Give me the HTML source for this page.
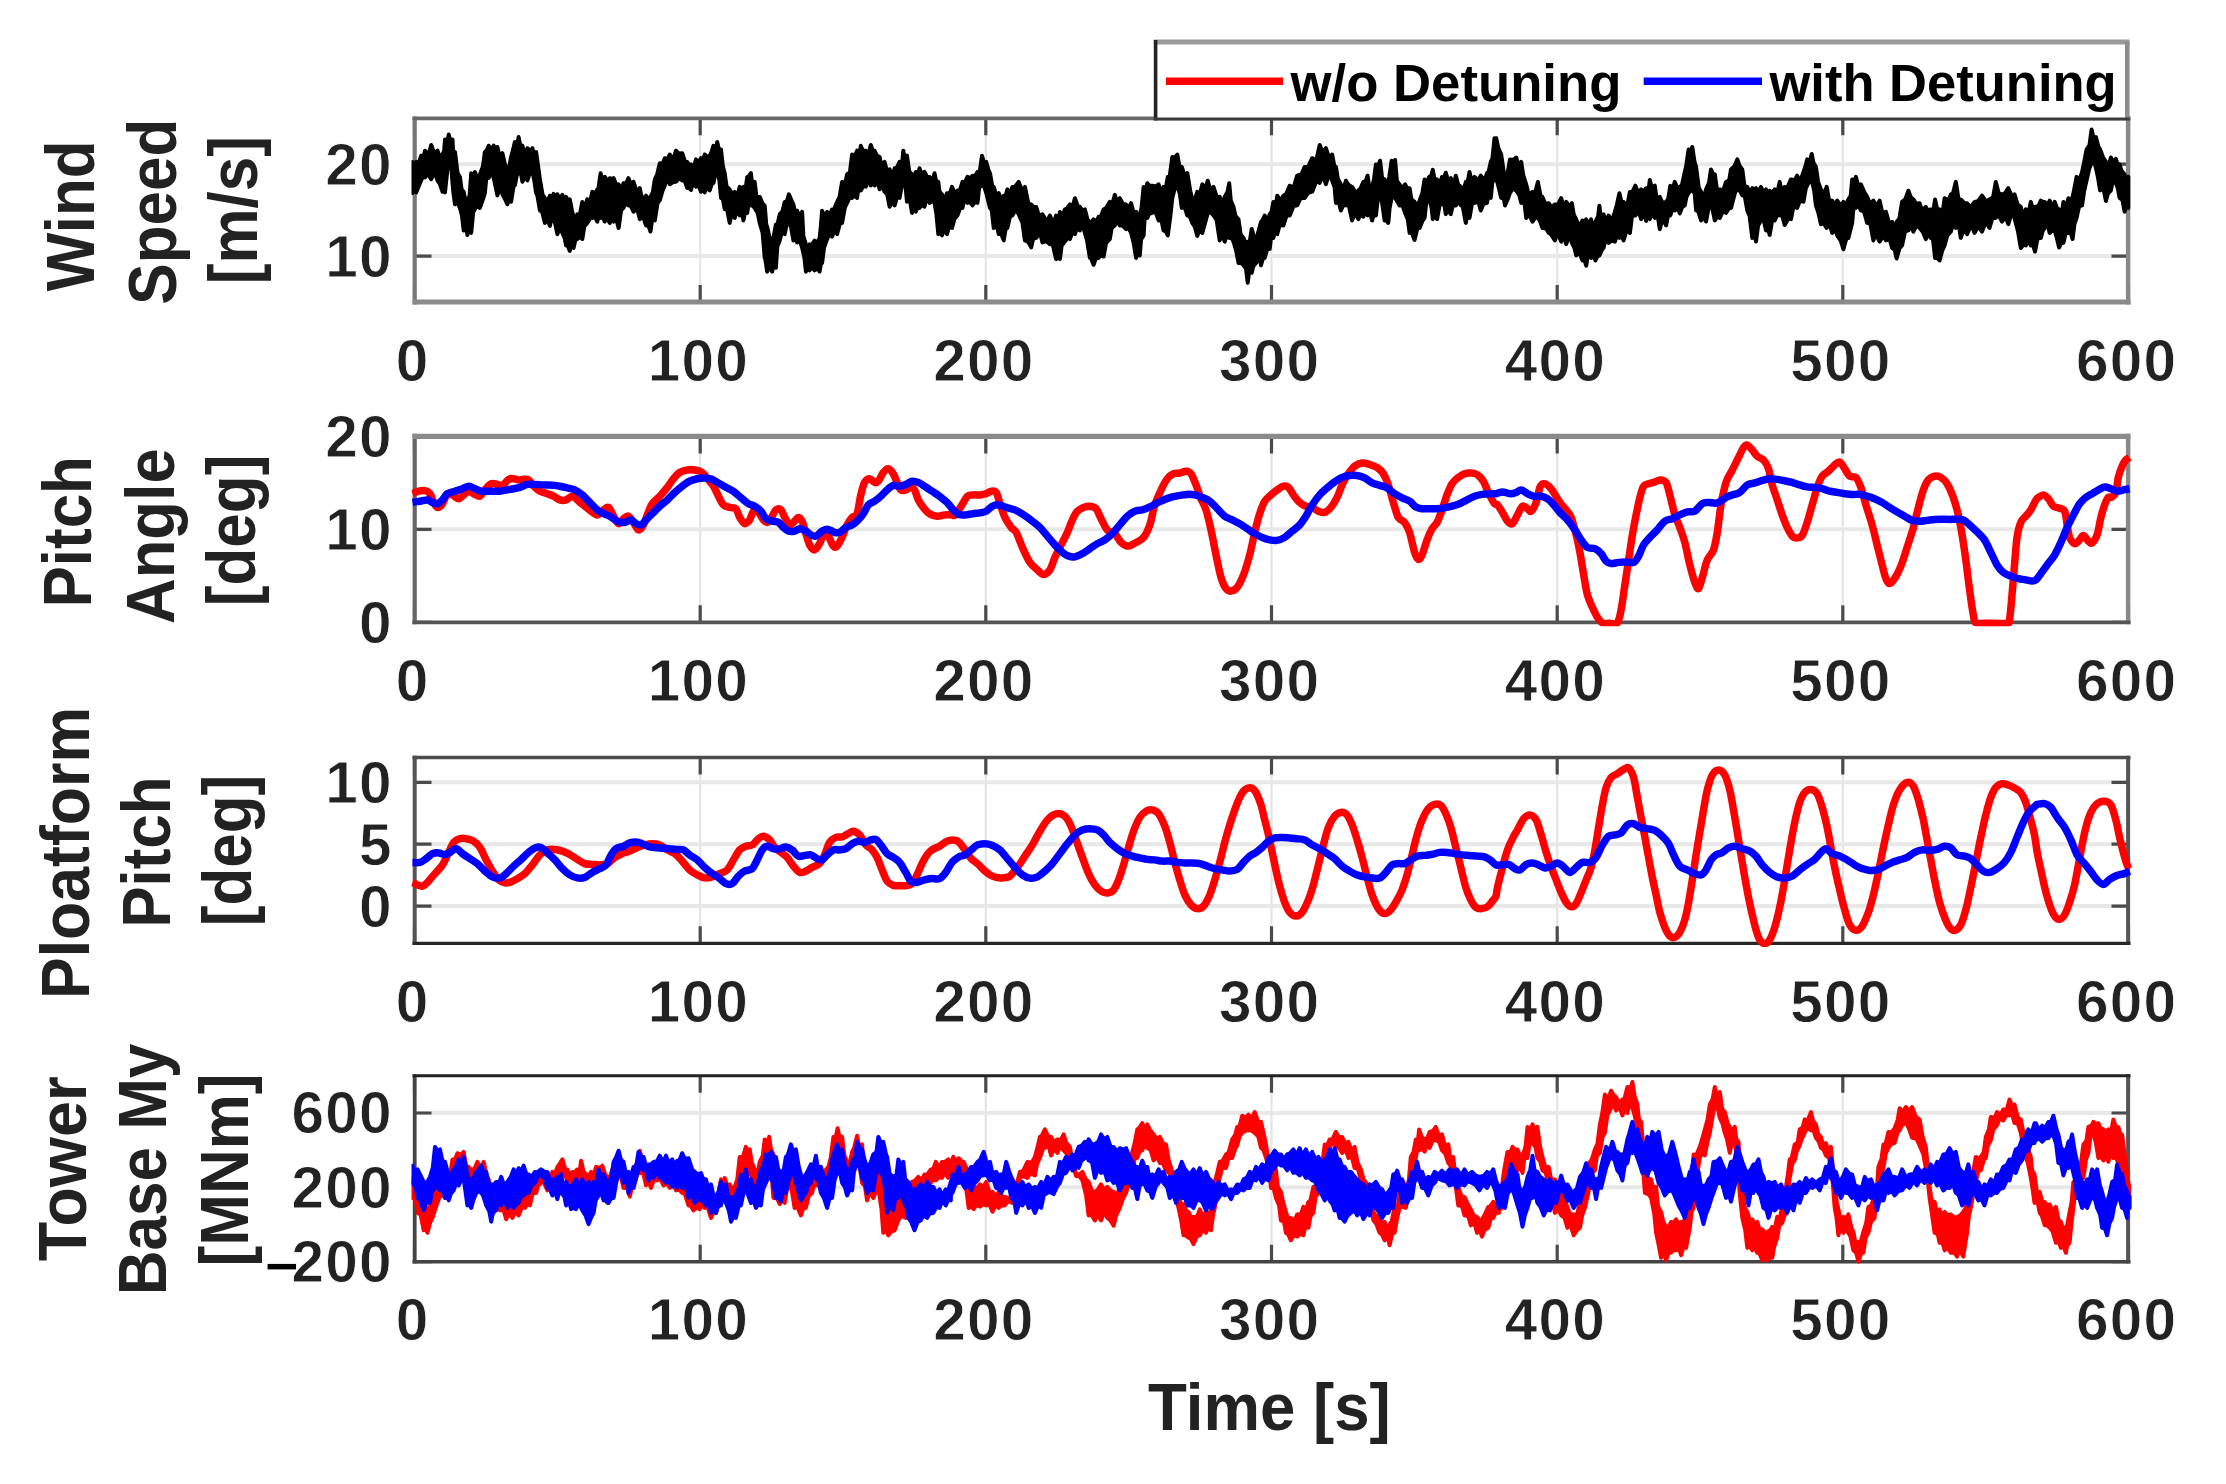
<!DOCTYPE html>
<html lang="en"><head><meta charset="utf-8"><title>Detuning comparison</title>
<style>html,body{margin:0;padding:0;background:#fff}body{width:2226px;height:1484px;overflow:hidden}svg{display:block;filter:blur(0.7px)}</style></head>
<body>
<svg width="2226" height="1484" viewBox="0 0 2226 1484">
<rect width="2226" height="1484" fill="#fff"/>
<defs>
<clipPath id="c0"><rect x="411.5" y="117.3" width="1720" height="188.7"/></clipPath>
<clipPath id="c1"><rect x="411.5" y="435.4" width="1720" height="190.9"/></clipPath>
<clipPath id="c2"><rect x="411.5" y="756.5" width="1720" height="190.8"/></clipPath>
<clipPath id="c3"><rect x="411.5" y="1074.8" width="1720" height="190.9"/></clipPath>
</defs>
<path d="M700.2 118.3V302M985.8 118.3V302M1271.5 118.3V302M1557.2 118.3V302M1842.8 118.3V302" stroke="#e4e4e4" stroke-width="2.2" fill="none"/>
<path d="M414.5 256.1H2128.5M414.5 164.2H2128.5" stroke="#e8e8e8" stroke-width="4" fill="none"/>
<path d="M700.2 436.4V622.3M985.8 436.4V622.3M1271.5 436.4V622.3M1557.2 436.4V622.3M1842.8 436.4V622.3" stroke="#e4e4e4" stroke-width="2.2" fill="none"/>
<path d="M414.5 529.3H2128.5" stroke="#e8e8e8" stroke-width="4" fill="none"/>
<path d="M700.2 757.5V943.3M985.8 757.5V943.3M1271.5 757.5V943.3M1557.2 757.5V943.3M1842.8 757.5V943.3" stroke="#e4e4e4" stroke-width="2.2" fill="none"/>
<path d="M414.5 906.1H2128.5M414.5 844.2H2128.5M414.5 782.3H2128.5" stroke="#e8e8e8" stroke-width="4" fill="none"/>
<path d="M700.2 1075.8V1261.7M985.8 1075.8V1261.7M1271.5 1075.8V1261.7M1557.2 1075.8V1261.7M1842.8 1075.8V1261.7" stroke="#e4e4e4" stroke-width="2.2" fill="none"/>
<path d="M414.5 1187.3H2128.5M414.5 1113H2128.5" stroke="#e8e8e8" stroke-width="4" fill="none"/>
<path d="M414.5 118.3v17M414.5 302v-17M700.2 118.3v17M700.2 302v-17M985.8 118.3v17M985.8 302v-17M1271.5 118.3v17M1271.5 302v-17M1557.2 118.3v17M1557.2 302v-17M1842.8 118.3v17M1842.8 302v-17M2128.5 118.3v17M2128.5 302v-17M414.5 256.1h17M2128.5 256.1h-17M414.5 164.2h17M2128.5 164.2h-17" stroke="#4a4a4a" stroke-width="3.2" fill="none"/>
<path d="M414.7 116.4V304.4" stroke="#777" stroke-width="4.2" fill="none"/>
<path d="M2128.1 116.4V304.4" stroke="#888" stroke-width="4.4" fill="none"/>
<path d="M412.5 118.3H2130.5" stroke="#686868" stroke-width="3.8" fill="none"/>
<path d="M412.5 302H2130.5" stroke="#8a8a8a" stroke-width="4.8" fill="none"/>
<path d="M414.5 436.4v17M414.5 622.3v-17M700.2 436.4v17M700.2 622.3v-17M985.8 436.4v17M985.8 622.3v-17M1271.5 436.4v17M1271.5 622.3v-17M1557.2 436.4v17M1557.2 622.3v-17M1842.8 436.4v17M1842.8 622.3v-17M2128.5 436.4v17M2128.5 622.3v-17M414.5 622.3h17M2128.5 622.3h-17M414.5 529.3h17M2128.5 529.3h-17M414.5 436.4h17M2128.5 436.4h-17" stroke="#4a4a4a" stroke-width="3.2" fill="none"/>
<path d="M414.7 433.8V624.2" stroke="#666" stroke-width="4.2" fill="none"/>
<path d="M2128.1 433.8V624.2" stroke="#888" stroke-width="4.4" fill="none"/>
<path d="M412.5 436.4H2130.5" stroke="#8a8a8a" stroke-width="5.2" fill="none"/>
<path d="M412.5 622.3H2130.5" stroke="#555" stroke-width="3.8" fill="none"/>
<path d="M414.5 757.5v17M414.5 943.3v-17M700.2 757.5v17M700.2 943.3v-17M985.8 757.5v17M985.8 943.3v-17M1271.5 757.5v17M1271.5 943.3v-17M1557.2 757.5v17M1557.2 943.3v-17M1842.8 757.5v17M1842.8 943.3v-17M2128.5 757.5v17M2128.5 943.3v-17M414.5 906.1h17M2128.5 906.1h-17M414.5 844.2h17M2128.5 844.2h-17M414.5 782.3h17M2128.5 782.3h-17" stroke="#4a4a4a" stroke-width="3.2" fill="none"/>
<path d="M414.7 755.8V944.9" stroke="#555" stroke-width="4.0" fill="none"/>
<path d="M2128.1 755.8V944.9" stroke="#555" stroke-width="4.0" fill="none"/>
<path d="M412.5 757.5H2130.5" stroke="#4c4c4c" stroke-width="3.4" fill="none"/>
<path d="M412.5 943.3H2130.5" stroke="#282828" stroke-width="3.2" fill="none"/>
<path d="M414.5 1075.8v17M414.5 1261.7v-17M700.2 1075.8v17M700.2 1261.7v-17M985.8 1075.8v17M985.8 1261.7v-17M1271.5 1075.8v17M1271.5 1261.7v-17M1557.2 1075.8v17M1557.2 1261.7v-17M1842.8 1075.8v17M1842.8 1261.7v-17M2128.5 1075.8v17M2128.5 1261.7v-17M414.5 1261.7h17M2128.5 1261.7h-17M414.5 1187.3h17M2128.5 1187.3h-17M414.5 1113h17M2128.5 1113h-17" stroke="#4a4a4a" stroke-width="3.2" fill="none"/>
<path d="M414.7 1074.3V1263.5" stroke="#444" stroke-width="3.8" fill="none"/>
<path d="M2128.1 1074.3V1263.5" stroke="#555" stroke-width="4.0" fill="none"/>
<path d="M412.5 1075.8H2130.5" stroke="#222" stroke-width="3.0" fill="none"/>
<path d="M412.5 1261.7H2130.5" stroke="#444" stroke-width="3.6" fill="none"/>
<g clip-path="url(#c0)"><path d="M412.5 161.9L414.2 164.8L416.2 161.9L418.1 164.8L421.2 155.7L423.8 156.3L425 150.7L428.3 155.5L431.2 145L434.4 153.9L437.5 150.7L440.3 159L442.5 154.5L444.2 150.4L445 139.5L447.1 143.7L448.7 134.5L450.5 141.1L452.5 139.5L453.2 153.7L455 152L457.6 173.2L459.9 176.9L461.6 189.5L463.7 191.9L465.8 202.6L467.4 201.9L469.6 195.4L471.2 173.2L473.6 180.4L474.9 171.9L477.9 179.9L479.9 174.4L482.9 166.5L484.9 152L486.7 150.5L488.7 145.7L491.7 149.1L493.7 145.7L495.8 152.3L497.4 147L499.9 158.1L502.4 153.2L505 164.8L507.4 169.4L509.4 165.8L511.1 157L512.8 150.8L514.9 142L516.7 147.6L518.6 137L520.6 147.5L522.4 145.7L524.8 155.5L527.4 148.2L530.6 151.1L532.4 148.2L534.1 155.5L536.1 152L538.2 166.9L539.9 179.4L542.6 194.8L544.9 198.2L546.7 203.6L549.9 195.7L551.4 201.2L553.6 193.9L555.3 199.9L557.4 194.4L559.6 198.6L562.4 194.9L564.3 203.1L566.1 196.9L568.4 201.6L569.8 199.4L572 210.7L573.6 216.9L575.9 219.2L577.3 214.4L579.6 216L582.3 201.9L584.4 208.7L587.3 199.4L590.3 200.9L592.3 191.9L595.3 193.1L597.3 189.4L598.4 188.8L600.6 173.2L602.5 182.4L604.8 176.9L607.9 181.9L609.8 178.2L612.2 179.2L613.6 178.2L616.7 185.8L618.6 184.4L621.3 190.8L623.5 183.2L625.7 184L628.5 178.2L631.5 185.8L633.5 181.9L637.3 193.3L639.8 188.2L642.2 200.1L646 195.7L648.5 198.7L650.5 196.9L652.8 192.5L654.8 179.4L657.2 174.3L659.8 163.2L662.3 164.5L664.8 158.2L667.8 158.7L669.8 154.5L673.1 160.2L676 150.7L678.8 153.4L682.2 153.2L685.1 162L687.2 161.9L688.6 164.6L691 164.4L692.9 170.7L696 159.4L698.3 162.4L701 158.2L702.4 162L704.7 154.5L707.5 157.1L709.7 155.7L711.4 152.3L713.5 145.7L715.8 151.1L717.2 142L719.1 150.2L721 149.5L722.8 165.7L724.7 173.2L726.6 186.6L729.7 189.4L732.8 195.1L734.7 191.9L736.9 197.6L739.7 186.9L741.8 188.9L743.4 186.9L745.6 189.3L747.2 176.9L748.4 176.9L750.9 173.2L752.2 184.8L754.7 181.9L756.5 197.5L759.7 196.9L762.4 203.3L764.7 205.7L766.3 224.9L767.2 226.9L770 239.6L772.2 238.1L773.4 238.3L775.9 224.4L777.4 224.9L779.7 214.4L782.5 211.2L784.7 201.9L786.6 202.1L788.9 194.4L791.8 201.1L793.4 204.4L795.5 214.5L797.1 210.7L799.6 217.7L802.1 211.9L803.4 236.3L805.9 244.4L807.7 252.7L809.6 244.4L811.7 245L814.6 240.6L817.4 242.9L819.6 238.1L820.7 227.8L822.1 210.7L824.2 217L827.1 211.9L829.2 215.5L832.1 209.4L834.1 209.2L837.1 201.9L839.6 196.8L842.1 181.9L844.6 185.8L847.1 174.4L849.9 172.3L852.1 154.5L854.2 157.3L857.1 150.7L859.5 154.6L860.8 145.7L862.9 150.7L865.8 150.7L868 155.7L870.8 145L873 151.3L874.6 150.7L876.8 155.6L879.6 157L881.4 165.1L884.6 161.9L886.7 170.2L889.6 169.4L892.1 177.5L894.6 168.2L896.5 168.3L899.6 161.9L902 164.6L903.3 150.7L904.9 160.4L907 155.7L909.2 171.3L912 174.4L914 181.9L915.8 171.9L918 175L919.5 168.2L922.2 175.6L924.5 171.9L927.2 176.9L929.5 176.9L931.8 183.5L934.5 173.2L936.6 183.3L938.3 181.9L939.5 191.7L942 194.4L944.8 200.8L947 193.2L950 193.2L952 186.9L955.1 193.8L957.5 190.7L960 190L962.5 181.9L964.4 183.3L967.5 176.9L970.4 178.1L972.5 175.7L974.9 176.3L977.5 171.9L979.8 171.3L982 155.7L984.1 163L986.2 161.9L988.5 170.2L990 173.2L992.5 187.5L993.7 186.9L996.4 195.5L998.7 193.2L1001.7 200.9L1003.7 195.7L1004.9 198.4L1007.4 189.4L1010 194.5L1012.4 186.9L1014.9 187L1018.7 181.9L1021.9 190.6L1024.9 186.9L1028.5 203.8L1031.2 204.4L1033.3 207.1L1036.2 206.9L1039 216L1042.4 214.4L1046.7 221.6L1049.9 215.6L1053.4 224.1L1056.1 215.6L1058.5 221.2L1059.9 211.9L1061.8 217.7L1064.9 209.4L1066.9 208.5L1069.9 204.4L1072.3 207.9L1074.9 198.2L1077.7 206L1079.9 206.9L1082.7 210.6L1084.9 209.4L1087.5 219.6L1089.9 221.9L1092.1 221.7L1093.6 219.4L1095.7 222.8L1098.6 216.9L1100.4 217.4L1103.6 209.4L1106.1 208L1109.8 201.9L1112.6 203L1114.8 194.9L1116.7 200.8L1119.8 198.2L1122.9 204L1126.1 204.4L1128.1 209.8L1131.1 203.2L1134 214.4L1136.1 211.9L1137.6 221.6L1139.8 214.4L1141.5 208.2L1143.6 186.9L1145.6 191.5L1147.3 183.2L1149.3 185.7L1152.3 185.7L1156 186.5L1158.6 184.4L1161.5 194.5L1163.5 186.9L1165.4 190.4L1167.8 176.9L1169.8 175.5L1172.3 157L1174.6 157.6L1177.3 154.5L1179.9 169.1L1181.8 166.9L1185.1 177.7L1187.3 173.2L1190.2 190.6L1192.3 199.4L1195.1 198.8L1197.3 191.9L1199.7 194.9L1202.3 184.4L1205 189.2L1207.8 180.7L1210.3 190.2L1213.5 186.9L1217.1 198.1L1219.7 196.9L1222 205.1L1224.7 196.9L1227.6 191.6L1229.2 183.2L1230.8 200.6L1233.5 206.9L1235.5 216.1L1238.5 219.4L1240.6 234.4L1243.5 238.1L1245.5 242.8L1247.7 241.9L1249.8 241.2L1251.7 228.9L1254.3 237.8L1256 241.9L1258 233.1L1261 221.9L1262.4 220.5L1264.7 215.6L1267.6 220.9L1269.7 214.4L1271.5 211.9L1273.4 201.9L1275.8 206.5L1277.2 195.7L1280.6 201L1283.4 195.7L1286 194.4L1289.7 185.7L1293.6 187.6L1297.2 175.7L1301.6 174L1304.7 166.9L1308 167L1312.2 158.2L1316.4 160L1319.7 145L1322.8 152.5L1325.9 148.2L1329.7 159.9L1332.1 154.5L1334.7 167.9L1335.9 166.9L1337.9 179L1340.9 184.4L1343.4 189.3L1345.9 180.7L1348.7 185.1L1352.1 186.9L1355.6 192.6L1358.4 190.7L1360.7 188.1L1363.4 181.9L1365.8 181L1367.6 175.7L1369.7 190.1L1372.1 186.9L1374 179.2L1375.9 164.4L1377.7 166.4L1380.1 160.7L1382.1 178.2L1384.6 179.4L1386 188.1L1388.3 181.9L1389.3 176.6L1391.6 160.7L1394 167.5L1395.1 159.9L1396.9 181L1399.6 184.4L1401.7 188.9L1405.1 184.4L1407 188L1409.6 188.2L1411.4 199.4L1414.6 201.9L1417.6 207.3L1419.6 200.7L1422.4 193L1424.6 179.4L1426.9 183.3L1429.1 176.9L1431.1 175.8L1432.8 169.9L1435.2 182.9L1437.1 179.4L1439.4 185.7L1442 176.9L1444.2 177.2L1445.8 172.7L1448.1 180.8L1450.8 178.2L1453.9 184.4L1455.8 175.7L1458.2 184.8L1460.8 186.9L1463.4 192L1465.8 181.9L1467.6 182.5L1469.5 171.9L1471.5 181.1L1474.5 176.9L1478.2 180.3L1480.8 175.7L1484.5 180.6L1487 173.2L1488.6 171.6L1490.8 161.9L1492.4 158.7L1494.5 138.2L1495 141.5L1496.2 138.2L1498.3 148L1501.2 154.5L1503.6 170.9L1505 176.9L1507.2 175.7L1510 159.4L1513.1 160L1516.2 157.5L1518.3 165.1L1521.2 161.9L1523.3 175.3L1526.2 184.4L1528.8 194.6L1532.5 191.9L1534.8 194L1537.9 181.9L1540.8 197.4L1542.4 196.9L1545.4 204.1L1548.7 203.2L1551.3 207L1554.9 204.4L1557.5 205.1L1561.2 198.2L1564.3 208.6L1566.2 201.9L1569 206.4L1571.9 203.2L1573.8 214.8L1576.2 219.4L1579.2 227.3L1582.4 220.6L1584.7 224.6L1586.2 219.4L1589.1 225.1L1591.1 219.4L1592.8 229.4L1595.4 221.9L1598.1 216.4L1599.4 205.7L1600.8 218L1603.6 214.4L1606.4 222.4L1608.6 215.6L1611.8 220.9L1614.9 211.9L1616.9 204.7L1619.4 193.2L1621.3 201.5L1623.6 201.9L1627.2 205.8L1629.9 191.9L1632.3 192.1L1635.4 185.7L1638 192.6L1641.1 189.4L1643.5 192.1L1646.1 188.2L1648.7 189.3L1649.8 179.9L1651.7 187.3L1654.8 185.7L1656.7 199.1L1659.8 196.9L1662.8 203.5L1666.1 201.9L1668.1 199.2L1670.3 185.7L1672.3 190.5L1674.8 181.9L1677.5 188.6L1679.8 186.9L1681.9 185.1L1684.8 171.9L1686.1 166.6L1688.6 149.5L1690.5 151.5L1692.3 147L1694.6 162.2L1696.1 166.9L1698.8 187.7L1701.1 191.9L1703.5 198.7L1706 189.4L1709 182.7L1711 169.4L1712.7 173.6L1714.8 174.4L1717 189.6L1719.8 189.4L1723.1 190.8L1726 181.9L1729.2 180.2L1731 169.4L1734.5 166.1L1737.3 159.4L1739.7 166L1742.3 169.4L1744.5 186.3L1747.3 186.9L1749.3 193.2L1752.3 188.2L1753.5 189.9L1756 188.2L1757.9 192.7L1761 186.9L1763.5 192.9L1766 189.4L1767.9 198.9L1769.7 190.7L1771.7 193.4L1774.7 189.4L1777.6 191.6L1779.7 181.9L1781.8 192.3L1784.7 186.9L1787.4 187.6L1791 179.4L1794.7 180.3L1797.2 175.7L1799.9 182.1L1803.5 171.9L1805.2 167L1807.2 159.4L1809.3 164.4L1811.7 154L1813.5 162.9L1815.9 166.9L1818.1 181.9L1820.9 189.4L1824.1 193.7L1826.7 186.9L1829 200.2L1832.2 200.7L1834.8 204.8L1837.2 200.7L1840.7 205.8L1843.4 201.9L1845.6 205.6L1848.4 199.4L1850.7 195.9L1852.2 179.4L1854 181.9L1855.9 176.9L1858.7 187.4L1860.9 184.4L1864.5 192.5L1867.2 196.9L1870.2 204.1L1873.4 200.7L1876.1 206.3L1879.6 200.7L1882.5 213.4L1885.9 211.9L1889.7 225L1892.1 221.9L1893.7 228.9L1896.6 221.9L1899.3 218.8L1902.1 201.9L1905.3 199.3L1908.4 190.7L1910.6 196.9L1913.4 199.4L1916.1 203.7L1919.6 203.2L1922.1 210.6L1925.8 206.9L1927.9 210.8L1930.8 209.4L1933.5 209.7L1935.1 199.4L1937 208.6L1939.6 209.4L1942.7 212.3L1944.6 198.2L1948.4 200.8L1950.8 194.4L1952.9 193.7L1955.8 181.9L1958.6 199.6L1960.8 199.4L1964.3 203.1L1967.1 203.2L1970.6 207.2L1974.6 201.9L1978 201.1L1982 195.7L1986.1 201.5L1989.5 199.4L1993.1 197.2L1995.8 181.9L1998.8 193.5L2002 194.4L2004.7 193.7L2008.3 188.2L2011.9 196.3L2014.5 194.4L2017.7 204.6L2020.8 206.9L2022.8 216.5L2025.8 209.4L2028.6 212.6L2030.8 201.9L2033 209.8L2035 206.9L2038.5 205.9L2040.9 200.7L2043.2 202.3L2044.7 201.9L2047.3 205.9L2049.7 200.7L2051.9 207.9L2054.7 201.9L2056.9 208L2059.1 209.4L2061.7 214.4L2063.4 201.9L2066.1 207.5L2068.4 198.2L2070.9 200.3L2072.6 196.9L2074.1 189.8L2076.6 176.9L2079.5 180L2082.1 171.9L2084.2 161.9L2086.6 149.5L2089.5 145L2091.6 129.5L2093.8 139.5L2095.9 137L2098.4 146.7L2100.1 149.5L2103.1 157.5L2105.9 161.9L2109.1 164.2L2110.9 157.5L2112.8 162.1L2115.8 158.9L2118.3 166.5L2119.6 164.4L2121.4 170.5L2124.6 174.4L2125.8 183.6L2128.3 176.9L2128.3 207.9L2126.7 201.5L2124.6 211.6L2122.4 200L2119.6 197.9L2117.6 187.4L2115.8 182.9L2113.4 177.7L2110.9 190.4L2107.9 193.7L2105.9 200.9L2103.2 187.2L2100.1 190.4L2098 177.7L2095.9 167.9L2093.6 158.6L2091.6 162.9L2089.3 168.6L2086.6 180.4L2084 191.7L2082.1 205.4L2079.1 206.3L2076.6 217.9L2074.4 224.2L2072.6 239.1L2070.3 231.4L2068.4 232.9L2065.7 233.3L2063.4 242.9L2061.1 243.3L2059.1 247.4L2056.7 237.6L2054.7 230.4L2052.4 230.6L2049.7 232.9L2046.8 221.4L2044.7 227.9L2042.6 231.2L2040.9 237.9L2037.5 238.7L2035 251.6L2032.4 242.1L2030.8 245.4L2027.8 240.5L2025.8 245.4L2023.9 244L2020.8 247.9L2018 231.5L2014.5 217.9L2011.7 212.4L2008.3 224.1L2005.5 216.8L2002 221.6L1998.3 214.1L1995.8 217.9L1992.3 218.5L1989.5 227.9L1985.8 221.8L1982 231.6L1978.3 225.9L1974.6 232.9L1971.2 224.7L1967.1 234.1L1963.6 229.4L1960.8 237.9L1958.9 225.6L1955.8 227.9L1952.9 224.7L1950.8 231.6L1947.3 235.4L1944.6 245.4L1942.1 250.9L1939.6 260.4L1937.1 257.6L1935.1 257.9L1933 239.5L1930.8 237.9L1927.8 233.5L1925.8 239.1L1922.7 231.6L1919.6 227.9L1916.4 225.6L1913.4 231.6L1911.2 225.6L1908.4 230.4L1905.1 231.3L1902.1 245.4L1899.5 248.1L1896.6 258.4L1894.6 249.8L1892.1 247.9L1889.5 238.8L1885.9 240.4L1883.3 235.6L1879.6 241.6L1875.9 233.4L1873.4 240.4L1870.3 223.7L1867.2 222.9L1864 211.4L1860.9 210.4L1858.5 205.4L1855.9 207.9L1853.6 206.4L1852.2 222.9L1851 227.6L1848.4 237.9L1846.5 237.9L1843.4 249.1L1840.8 240.8L1837.2 235.4L1834.9 228.8L1832.2 232.9L1829.8 224.5L1826.7 227.9L1823.4 223L1820.9 224.1L1818.4 212.9L1815.9 205.4L1814.1 189.9L1811.7 180.4L1809.3 181.5L1807.2 185.4L1805.8 188.5L1803.5 201.7L1799.9 200.6L1797.2 207.9L1793.6 205.9L1791 219.1L1788.4 218.5L1784.7 224.9L1781.6 213.2L1779.7 215.4L1777.8 214.1L1774.7 220.4L1772.3 219.4L1769.7 234.9L1767.4 226.3L1766 230.4L1763.2 217.5L1761 220.4L1758.1 225.4L1756 241.6L1754.7 233.6L1752.3 237.9L1749.6 216.1L1747.3 210.4L1744.6 195.3L1742.3 195.4L1739.7 190.6L1737.3 187.9L1734.8 193.4L1731 207.9L1728.8 208.6L1726 212.9L1723.1 210.9L1719.8 217.9L1717.1 216.7L1714.8 220.4L1712.2 207.9L1711 197.9L1708.7 207.3L1706 221.6L1704.1 217L1701.1 220.4L1698 210.9L1696.1 210.4L1694.7 193.5L1692.3 190.4L1691 190.4L1688.6 192.9L1686.4 197L1684.8 205.4L1682.1 207.2L1679.8 213.4L1677.8 207.9L1674.8 210.4L1672.6 209L1670.3 215.4L1668.7 212.3L1666.1 225.4L1662.6 218.4L1659.8 229.1L1657.8 216.3L1654.8 217.9L1652.2 212.6L1649.8 219.1L1648 212L1646.1 220.9L1643.6 211.3L1641.1 219.1L1638.4 210.4L1635.4 215.4L1632.1 215.3L1629.9 232.9L1627.2 228.1L1623.6 240.4L1621.6 235.6L1619.4 237.9L1617.1 233.9L1614.9 241.6L1611.7 240.5L1608.6 242.9L1606.2 236.4L1603.6 247.9L1602 249.7L1599.4 255.4L1597.3 256.4L1595.4 260.4L1592.9 251.4L1591.1 257.9L1588.2 253.4L1586.2 265.8L1583.9 257.8L1582.4 260.4L1579.3 252.3L1576.2 255.4L1574.4 247.9L1571.9 242.9L1569.3 234.9L1566.2 244.1L1563.3 233.9L1561.2 241.6L1557.6 232.7L1554.9 240.4L1551.3 234.6L1548.7 232.9L1546.2 228.5L1542.4 227.9L1540.2 221.5L1537.9 217.9L1535.7 217.4L1532.5 221.6L1528.7 213.6L1526.2 217.9L1524.4 202.2L1521.2 202.9L1519.4 195.3L1516.2 190.4L1512.8 188.5L1510 192.9L1508.1 198.1L1505 205.4L1503.3 194.7L1501.2 197.9L1498.1 185.1L1496.2 177.9L1496 177.1L1494.5 180.4L1492.5 180.6L1490.8 197.9L1488.6 192.8L1487 202.9L1483.4 204.1L1480.8 210.4L1478.3 201.5L1474.5 202.9L1472.3 202.1L1469.5 217.9L1467.3 215L1465.8 222.9L1462.6 205.7L1460.8 205.4L1458.8 200.2L1455.8 205.4L1452.8 205.2L1450.8 214.1L1448.2 209.9L1445.8 214.1L1444.6 206.1L1442 202.9L1439.6 205.2L1437.1 219.1L1435.5 214.4L1432.8 219.1L1431.5 207.4L1429.1 197.9L1426.5 200.3L1424.6 217.9L1422.5 220.8L1419.6 227.9L1417.5 227.5L1414.6 239.9L1412 233.3L1409.6 232.9L1407.8 219.4L1405.1 212.9L1402.4 205.4L1399.6 205.4L1396.7 200.4L1395.1 197.9L1393.7 193.2L1391.6 197.9L1389.6 208.1L1388.3 222.9L1386.5 220.6L1384.6 220.4L1382 201.7L1380.1 197.9L1377.9 198.8L1375.9 215.4L1374 213.2L1372.1 220.4L1369.4 209.9L1367.6 215.4L1366.2 208.9L1363.4 216.6L1360.3 214.5L1358.4 219.1L1355 212.8L1352.1 220.4L1348.9 205.9L1345.9 205.4L1343.6 204.5L1340.9 210.4L1337.8 198.2L1335.9 202.9L1334.6 187.4L1332.1 180.4L1329 174.1L1325.9 184.2L1322.7 175.1L1319.7 182.9L1316.6 180.5L1312.2 191.7L1307.9 193.1L1304.7 197.9L1300.7 197.9L1297.2 205.4L1293.6 206L1289.7 215.4L1286.6 215.5L1283.4 225.4L1279.7 225L1277.2 234.1L1274.9 230.2L1273.4 237.9L1271 237.7L1269.7 249.1L1267.7 247.4L1264.7 257.9L1263.3 256.9L1261 265.3L1259 255.4L1256 262.9L1253.3 266.2L1251.7 272.8L1249.3 270.5L1247.7 282.8L1246 268.6L1243.5 265.3L1241.6 263L1238.5 262.9L1236.2 250.8L1233.5 241.6L1231.6 237.9L1229.2 237.9L1226.4 235.6L1224.7 241.6L1222.1 234.1L1219.7 240.4L1216.6 219.9L1213.5 215.4L1211.1 212.4L1207.8 212.9L1205.4 221.7L1202.3 232.9L1199.3 230.3L1197.3 235.9L1194.9 227L1192.3 222.9L1189.7 216.3L1187.3 215.4L1184.3 206.2L1181.8 207.9L1179.9 194.3L1177.3 185.4L1175 187.5L1172.3 197.9L1170.5 214.9L1167.8 235.4L1165.8 231.6L1163.5 230.4L1161.6 220.6L1158.6 220.4L1155 210.4L1152.3 212.9L1149.2 213.7L1147.3 217.9L1144.7 217.9L1143.6 235.4L1141.1 239.3L1139.8 255.4L1137.6 253.2L1136.1 257.9L1133.5 242.2L1131.1 232.9L1128 227.2L1126.1 229.1L1122.5 225.5L1119.8 225.4L1118 221.2L1114.8 225.4L1111.7 228L1109.8 239.1L1106.1 242.9L1103.6 256.6L1100.6 254.9L1098.6 257.9L1095.6 258.8L1093.6 264.8L1091.2 258.7L1089.9 257.9L1087 240.1L1084.9 232.9L1082.2 223.4L1079.9 230.4L1077.2 227.5L1074.9 234.1L1072.6 231.3L1069.9 239.1L1067.4 237.8L1064.9 241.6L1061.7 245.5L1059.9 259.1L1057.9 250.7L1056.1 259.1L1052.8 244.9L1049.9 244.1L1046.3 241.2L1042.4 242.4L1039.8 231.7L1036.2 237.9L1033.1 238.7L1031.2 247.4L1028.2 241.8L1024.9 240.4L1022.4 222.7L1018.7 214.1L1015.6 209.5L1012.4 215.4L1009.9 216.7L1007.4 227.9L1005.9 227.3L1003.7 240.4L1001.2 233.9L998.7 234.1L996.9 225.3L993.7 227.9L991.7 209.8L990 207.9L987.4 197.4L986.2 192.9L984.2 186.6L982 185.4L979.2 187.2L977.5 202.9L975.3 201.6L972.5 205.4L970.3 202.3L967.5 202.9L964.7 197.6L962.5 207.9L960.4 207.4L957.5 215.4L954.5 218.7L952 227.9L948.9 226.9L947 234.1L944.3 229.4L942 235.4L940.4 232.3L938.3 234.1L936.3 213.1L934.5 202.9L932.3 200.8L929.5 202.9L926.5 196.7L924.5 206.7L922.2 204.8L919.5 207.9L917.9 206L915.8 211.6L913.4 205.9L912 212.9L909.9 199.8L907 201.7L905.4 185.2L903.3 182.9L901.2 188.6L899.6 197.9L897.6 195.3L894.6 205.4L891.5 201.9L889.6 206.7L887.2 194.3L884.6 191.7L881.8 184L879.6 189.2L876.9 179.6L874.6 185.4L872.1 181L870.8 185.4L868.8 177.8L865.8 186.7L863.6 185.5L860.8 190.4L858.6 185.5L857.1 197.9L854.9 195.1L852.1 197.9L850.2 196.2L847.1 202.9L844.9 207.4L842.1 222.9L840.1 222.7L837.1 234.1L835.3 228.2L832.1 236.6L829.4 233.8L827.1 239.1L824 247.8L822.1 262.9L821.4 260.6L819.6 271.6L817.8 268.1L814.6 270.3L812.2 267.2L809.6 270.3L808.1 265.8L805.9 271.6L804.4 257.5L802.1 247.9L799.8 240L797.1 242.4L795.6 239.1L793.4 240.4L791 226.6L788.9 222.9L786.7 224.3L784.7 234.1L782 231.3L779.7 240.4L777.3 246.5L775.9 267.8L773.8 261.2L772.2 271.6L769.1 266.5L767.2 271.6L765.3 259.1L764.7 257.9L762.6 232.6L759.7 222.9L757.7 213L754.7 207.9L752.2 205.3L750.9 205.4L748.6 203.4L747.2 212.9L745.4 210.3L743.4 220.4L742.1 210.4L739.7 215.4L737.1 209.3L734.7 217.9L732 212.4L729.7 222.9L727.1 209.5L724.7 209.1L722.5 197L721 197.9L719.4 180.2L717.2 170.4L715.5 172.6L713.5 182.9L711.7 184.2L709.7 190.4L707.1 186L704.7 192.4L702.6 188.2L701 191.7L698.7 185.7L696 186.7L693.5 180.5L691 189.9L688.5 186.9L687.2 187.9L684 179.4L682.2 180.4L679.2 177.9L676 181.7L673.4 181.9L669.8 184.2L667.7 177.5L664.8 185.4L662.7 190.3L659.8 200.4L657.7 202.5L654.8 220.4L652.4 217.5L650.5 231.6L648.3 225.1L646 225.4L643.2 216.6L639.8 219.1L637.2 208.8L633.5 211.6L630.4 205.2L628.5 205.4L625.4 202.9L623.5 207.9L621.1 210.2L618.6 227.9L615.7 216.2L613.6 221.6L612.4 213.7L609.8 222.9L606.8 218L604.8 221.6L602.6 216.6L600.6 217.9L598.7 216L597.3 221.6L595 216.5L592.3 217.9L590.3 217.9L587.3 222.9L584.3 226.4L582.3 239.1L580 236.8L577.3 239.1L575.4 239.8L573.6 247.9L571.2 244.9L569.8 250.9L567.6 245.3L566.1 245.4L564.6 237.9L562.4 232.9L559.7 227.7L557.4 234.1L555.2 223.7L553.6 220.4L551.7 214.4L549.9 225.9L546.8 217.5L544.9 222.9L542.2 211.9L539.9 210.4L537.4 195.7L536.1 192.9L534.4 181.2L532.4 171.7L529.9 172.6L527.4 180.4L525.2 176L522.4 181.7L520.7 171.5L518.6 172.9L516.8 175.2L514.9 185.4L513.7 185.6L511.1 201.7L508.8 198.6L507.4 204.2L504.2 197.5L502.4 194.2L500.6 185.9L497.4 195.4L495.3 185.3L493.7 177.9L490.5 170.8L488.7 177.9L486.3 178L484.9 192.9L483.1 198.9L479.9 207.9L477.5 205.8L474.9 209.1L473.2 212.3L471.2 232.9L468.8 224.9L467.4 234.9L466.2 224.4L463.7 230.4L461.9 215.1L459.9 207.9L457.2 201.5L455 204.2L453.3 191.8L452.5 182.9L451.2 165.5L448.7 162.9L447.4 169.6L445 192.4L443.7 190.8L442.5 191.7L440.1 184.5L437.5 180.4L434.7 171.9L431.2 179.2L427.6 173.5L425 177.4L423.1 176.1L421.2 180.4L419.2 184.9L416.2 192.4L414.5 187.3L412.5 192.9Z" fill="#000" stroke="#000" stroke-width="4" stroke-linejoin="round"/></g>
<g clip-path="url(#c1)" fill="none" stroke-width="7.5" stroke-linejoin="round" stroke-linecap="butt">
<path d="M412.5 493.7C413.5 493.3 416.7 491.7 418.7 491.2C420.8 490.7 423.1 490.3 425 490.7C426.9 491.1 428.5 491.7 430 493.7C431.4 495.6 432.5 500.1 433.7 502.4C435 504.7 436 507.2 437.5 507.4C438.9 507.6 440.8 506 442.5 503.7C444.1 501.4 445.8 495.1 447.5 493.7C449.1 492.2 450.6 494.1 452.5 494.9C454.3 495.8 456.8 498.7 458.7 498.7C460.6 498.7 462 496.2 463.7 494.9C465.4 493.7 467 491.4 468.7 491.2C470.4 491 471.8 492.9 473.7 493.7C475.6 494.5 478.1 496.8 479.9 496.2C481.8 495.6 483.1 492 484.9 489.9C486.8 487.9 489.1 484.6 491.2 483.7C493.2 482.8 495.5 484.2 497.4 484.4C499.3 484.7 500.5 486.3 502.4 485.4C504.3 484.6 506.8 480.6 508.7 479.4C510.5 478.3 512 478.6 513.6 478.7C515.3 478.8 517 479.9 518.6 479.9C520.3 480 522 479.2 523.6 479.2C525.3 479.2 527 478.8 528.6 479.9C530.3 481.1 531.8 484.3 533.6 486.2C535.5 488.1 537.6 489.9 539.9 491.2C542.2 492.4 545.1 492.9 547.4 493.7C549.7 494.5 551.5 495.1 553.6 496.2C555.7 497.2 557.8 499.3 559.9 499.9C561.9 500.6 564 500.6 566.1 499.9C568.2 499.3 570.3 496 572.3 496.2C574.4 496.4 576.5 499.5 578.6 501.2C580.7 502.8 582.8 504.5 584.8 506.2C586.9 507.8 589 509.7 591.1 511.2C593.2 512.6 595.2 515.1 597.3 514.9C599.4 514.7 601.7 511.2 603.6 509.9C605.4 508.7 606.9 506.4 608.6 507.4C610.2 508.5 611.9 513.5 613.6 516.2C615.2 518.9 616.9 523.2 618.6 523.7C620.2 524.1 621.9 519.9 623.5 518.7C625.2 517.4 626.9 515.5 628.5 516.2C630.2 516.8 631.9 520.1 633.5 522.4C635.2 524.7 636.9 529.5 638.5 529.9C640.2 530.3 642.1 527.4 643.5 524.9C645 522.4 645.8 518.5 647.3 514.9C648.7 511.4 650.2 506.8 652.3 503.7C654.4 500.6 657.3 498.9 659.8 496.2C662.3 493.5 665 490.4 667.3 487.4C669.5 484.5 671.4 481.2 673.5 478.7C675.6 476.2 677.5 473.9 679.7 472.5C682 471 684.7 470.4 687.2 470C689.7 469.5 692.2 469.5 694.7 470C697.2 470.4 699.9 470.8 702.2 472.5C704.5 474.1 706.6 477.7 708.5 479.9C710.3 482.2 711.8 483.5 713.5 486.2C715.1 488.9 716.8 493.1 718.5 496.2C720.1 499.3 721.6 503.1 723.5 504.9C725.3 506.8 727.6 506.8 729.7 507.4C731.8 508 734.3 507 735.9 508.7C737.6 510.3 738.2 514.9 739.7 517.4C741.2 519.9 743 523.2 744.7 523.7C746.4 524.1 748.2 522 749.7 519.9C751.1 517.8 752 512.4 753.4 511.2C754.9 509.9 756.8 511 758.4 512.4C760.1 513.9 762 518.2 763.4 519.9C764.9 521.6 765.7 523 767.2 522.4C768.6 521.8 770.7 518.2 772.2 516.2C773.6 514.1 774.5 511 775.9 509.9C777.4 508.9 779.5 508.7 780.9 509.9C782.4 511.2 783.2 514.9 784.7 517.4C786.1 519.9 788 524.3 789.6 524.9C791.3 525.5 793.2 522.4 794.6 521.2C796.1 519.9 797.1 517.4 798.4 517.4C799.6 517.4 800.9 518.5 802.1 521.2C803.4 523.9 804.6 529.7 805.9 533.6C807.1 537.6 808.2 542.2 809.6 544.9C811.1 547.6 813 550.1 814.6 549.9C816.3 549.7 818 546.6 819.6 543.6C821.3 540.7 823.2 533.6 824.6 532.4C826.1 531.1 826.9 533.9 828.4 536.1C829.8 538.4 831.9 544.5 833.4 546.1C834.8 547.8 835.6 547.6 837.1 546.1C838.6 544.7 840.4 540.9 842.1 537.4C843.8 533.9 845.4 528.2 847.1 524.9C848.8 521.6 850.4 519.3 852.1 517.4C853.8 515.5 855.6 517.4 857.1 513.7C858.5 509.9 859.6 500.1 860.8 494.9C862.1 489.7 863.1 485.1 864.6 482.4C866 479.7 867.9 478.7 869.6 478.7C871.2 478.7 873.1 482 874.6 482.4C876 482.9 876.9 482.9 878.3 481.2C879.8 479.5 881.6 474.5 883.3 472.5C885 470.4 886.6 468.5 888.3 468.7C890 468.9 891.8 471.4 893.3 473.7C894.8 476 895.8 479.7 897.1 482.4C898.3 485.1 899.3 488.7 900.8 489.9C902.3 491.2 904.1 490.4 905.8 489.9C907.5 489.5 909.3 487.4 910.8 487.4C912.2 487.4 913.3 487.9 914.5 489.9C915.8 492 916.8 497 918.3 499.9C919.7 502.8 921.4 505.1 923.3 507.4C925.2 509.7 927.2 512.2 929.5 513.7C931.8 515.1 934.5 516 937 516.2C939.5 516.4 942 515.1 944.5 514.9C947 514.7 950.3 514.9 952 514.9C953.7 514.9 953.4 516.4 955 514.9C956.5 513.5 959.1 509.3 961.2 506.2C963.3 503.1 965.4 498.1 967.5 496.2C969.6 494.3 971.6 495.1 973.7 494.9C975.8 494.7 977.9 495.1 980 494.9C982 494.7 984.3 494.3 986.2 493.7C988.1 493.1 989.5 491.4 991.2 491.2C992.9 491 994.7 490.4 996.2 492.4C997.7 494.5 998.5 499.5 999.9 503.7C1001.4 507.8 1003.1 513.5 1004.9 517.4C1006.8 521.4 1009.3 524.9 1011.2 527.4C1013.1 529.9 1014.3 529.1 1016.2 532.4C1018.1 535.7 1020.1 542.4 1022.4 547.4C1024.7 552.4 1027.4 558.6 1029.9 562.4C1032.4 566.1 1035.1 567.9 1037.4 569.9C1039.7 571.9 1041.6 574.4 1043.7 574.4C1045.7 574.4 1048 572.7 1049.9 569.9C1051.8 567 1053 561.5 1054.9 557.4C1056.8 553.2 1059.1 549.1 1061.1 544.9C1063.2 540.7 1065.5 536.6 1067.4 532.4C1069.3 528.2 1070.7 523.4 1072.4 519.9C1074 516.4 1075.5 513.2 1077.4 511.2C1079.2 509.1 1081.5 508.3 1083.6 507.4C1085.7 506.6 1087.8 506 1089.9 506.2C1091.9 506.4 1094.2 506.6 1096.1 508.7C1098 510.8 1099.2 515.1 1101.1 518.7C1103 522.2 1105.1 527.4 1107.3 529.9C1109.6 532.4 1112.6 531.6 1114.8 533.6C1117.1 535.7 1118.8 540.3 1121.1 542.4C1123.4 544.5 1126.1 546.1 1128.6 546.1C1131.1 546.1 1133.6 543.8 1136.1 542.4C1138.6 540.9 1141.3 540.3 1143.6 537.4C1145.9 534.5 1147.9 530.3 1149.8 524.9C1151.7 519.5 1152.9 510.8 1154.8 504.9C1156.7 499.1 1159 494.3 1161.1 489.9C1163.1 485.6 1165.2 481.4 1167.3 478.7C1169.4 476 1171.5 474.7 1173.5 473.7C1175.6 472.7 1177.7 473.4 1179.8 473C1181.9 472.5 1184.2 471.1 1186 471.2C1187.9 471.3 1189.4 471.4 1191 473.7C1192.7 476 1194.4 480.8 1196 484.9C1197.7 489.1 1199.3 494.5 1201 498.7C1202.7 502.8 1204.3 504.7 1206 509.9C1207.7 515.1 1209.3 522.4 1211 529.9C1212.7 537.4 1214.3 547 1216 554.9C1217.7 562.8 1219.3 571.7 1221 577.4C1222.7 583 1224.3 586.3 1226 588.6C1227.7 590.9 1229.1 591.3 1231 591.1C1232.9 590.9 1235.2 590.1 1237.2 587.3C1239.3 584.6 1241.4 580.3 1243.5 574.9C1245.6 569.4 1247.8 562 1249.7 554.9C1251.6 547.8 1253.1 539.3 1254.7 532.4C1256.4 525.5 1258 518.9 1259.7 513.7C1261.4 508.5 1262.8 504.3 1264.7 501.2C1266.6 498.1 1268.9 496.8 1271 494.9C1273 493.1 1275.1 491.4 1277.2 489.9C1279.3 488.5 1281.6 486.6 1283.4 486.2C1285.3 485.8 1286.8 486 1288.4 487.4C1290.1 488.9 1291.6 492.4 1293.4 494.9C1295.3 497.4 1297.6 500.6 1299.7 502.4C1301.8 504.3 1303.8 505.3 1305.9 506.2C1308 507 1310.1 506.6 1312.2 507.4C1314.2 508.3 1316.3 510.3 1318.4 511.2C1320.5 512 1322.6 513 1324.7 512.4C1326.7 511.8 1328.8 509.9 1330.9 507.4C1333 504.9 1335.3 501.2 1337.1 497.4C1339 493.7 1340.3 488.9 1342.1 484.9C1344 481 1346.3 476.8 1348.4 473.7C1350.5 470.6 1352.3 468 1354.6 466.2C1356.9 464.4 1359.6 463.3 1362.1 463C1364.6 462.7 1367.1 463.7 1369.6 464.5C1372.1 465.2 1374.8 465.9 1377.1 467.5C1379.4 469 1381.5 470.8 1383.4 473.7C1385.2 476.6 1386.7 480.2 1388.3 484.9C1390 489.7 1391.7 497 1393.3 502.4C1395 507.8 1396.5 514.1 1398.3 517.4C1400.2 520.7 1402.7 519.9 1404.6 522.4C1406.5 524.9 1407.9 527.4 1409.6 532.4C1411.2 537.4 1413.1 547.9 1414.6 552.4C1416 556.9 1417.1 559 1418.3 559.4C1419.6 559.8 1420.6 558.1 1422.1 554.9C1423.5 551.6 1425.4 544.3 1427.1 539.9C1428.7 535.5 1430.4 531.6 1432.1 528.7C1433.7 525.7 1435.4 525.5 1437.1 522.4C1438.7 519.3 1440.4 514.5 1442 509.9C1443.7 505.3 1445.4 499.3 1447 494.9C1448.7 490.6 1450.2 486.6 1452 483.7C1453.9 480.8 1456.2 479.1 1458.3 477.4C1460.4 475.8 1462.4 474.5 1464.5 473.7C1466.6 473 1468.7 472.8 1470.8 473C1472.9 473.1 1474.9 473.1 1477 474.5C1479.1 475.8 1481.2 477.8 1483.3 481.2C1485.3 484.6 1487.6 491.2 1489.5 494.9C1491.4 498.7 1493.2 502 1494.5 503.7C1495.8 505.3 1496.2 503.5 1497.5 504.9C1498.8 506.4 1500.8 509.7 1502.5 512.4C1504.1 515.1 1505.8 519.3 1507.5 521.2C1509.1 523 1510.8 524.7 1512.5 523.7C1514.1 522.6 1515.8 517.8 1517.5 514.9C1519.1 512 1520.8 507.2 1522.5 506.2C1524.1 505.1 1526 507.8 1527.5 508.7C1528.9 509.5 1529.7 512.2 1531.2 511.2C1532.7 510.1 1534.7 506.4 1536.2 502.4C1537.7 498.5 1538.7 490.6 1539.9 487.4C1541.2 484.3 1542.2 483.9 1543.7 483.7C1545.1 483.5 1547 484.7 1548.7 486.2C1550.4 487.6 1551.8 489.7 1553.7 492.4C1555.6 495.1 1557.8 499.5 1559.9 502.4C1562 505.3 1564.3 507.4 1566.2 509.9C1568 512.4 1569.5 513.2 1571.2 517.4C1572.8 521.6 1574.7 529.1 1576.2 534.9C1577.6 540.7 1578.7 545.7 1579.9 552.4C1581.2 559 1582.4 567.8 1583.7 574.9C1584.9 581.9 1585.9 589.4 1587.4 594.8C1588.9 600.3 1590.7 603.6 1592.4 607.3C1594.1 611.1 1595.7 614.7 1597.4 617.3C1599.1 619.9 1600.3 621.8 1602.4 622.8C1604.5 623.8 1607.4 623.3 1609.9 623.3C1612.4 623.3 1615.5 625.1 1617.4 622.8C1619.2 620.6 1619.9 616.2 1621.1 609.8C1622.4 603.5 1623.6 593.2 1624.9 584.9C1626.1 576.5 1627.4 568.2 1628.6 559.9C1629.9 551.5 1631.1 542.4 1632.4 534.9C1633.6 527.4 1634.9 521.2 1636.1 514.9C1637.4 508.7 1638.6 502.2 1639.9 497.4C1641.1 492.6 1642.1 488.5 1643.6 486.2C1645.1 483.9 1646.7 484.4 1648.6 483.7C1650.5 483 1653 482.6 1654.8 481.9C1656.7 481.3 1658 479.9 1659.8 479.9C1661.7 480 1664.4 479.9 1666.1 482.4C1667.7 484.9 1668.4 489.5 1669.8 494.9C1671.3 500.3 1673.2 509.5 1674.8 514.9C1676.5 520.3 1678.2 522.8 1679.8 527.4C1681.5 532 1683.2 536.1 1684.8 542.4C1686.5 548.6 1688.1 558.2 1689.8 564.9C1691.5 571.5 1693.3 578.4 1694.8 582.4C1696.3 586.3 1697.3 589.4 1698.6 588.6C1699.8 587.8 1700.8 582.1 1702.3 577.4C1703.8 572.6 1705.4 564.5 1707.3 559.9C1709.2 555.3 1711.9 554.5 1713.5 549.9C1715.2 545.3 1716 539.9 1717.3 532.4C1718.5 524.9 1719.6 513.2 1721 504.9C1722.5 496.6 1724.2 488.3 1726 482.4C1727.9 476.6 1730.2 474.1 1732.3 470C1734.4 465.8 1736.6 461.2 1738.5 457.5C1740.4 453.7 1742.1 449.6 1743.5 447.5C1745 445.4 1745.8 444.6 1747.3 445C1748.7 445.4 1750.6 448.1 1752.3 450C1753.9 451.8 1755.4 454.6 1757.3 456.2C1759.1 457.9 1761.6 457.9 1763.5 460C1765.4 462 1767 464.5 1768.5 468.7C1769.9 472.9 1770.8 479.7 1772.2 484.9C1773.7 490.1 1775.6 494.9 1777.2 499.9C1778.9 504.9 1780.6 510.3 1782.2 514.9C1783.9 519.5 1785.6 523.9 1787.2 527.4C1788.9 530.9 1790.6 534.4 1792.2 536.1C1793.9 537.9 1795.5 538 1797.2 537.9C1798.9 537.8 1800.5 538 1802.2 535.4C1803.9 532.8 1805.5 527.5 1807.2 522.4C1808.9 517.3 1810.5 510.8 1812.2 504.9C1813.9 499.1 1815.5 492.2 1817.2 487.4C1818.9 482.7 1820.3 478.9 1822.2 476.2C1824.1 473.5 1826.4 473.1 1828.4 471.2C1830.5 469.3 1832.8 466.5 1834.7 465C1836.6 463.4 1838 461.3 1839.7 462C1841.3 462.6 1843 466.3 1844.7 468.7C1846.3 471.1 1847.8 474.7 1849.7 476.2C1851.5 477.7 1854 475.6 1855.9 477.4C1857.8 479.3 1859.2 482.9 1860.9 487.4C1862.6 492 1864 498.7 1865.9 504.9C1867.8 511.2 1870.3 518.2 1872.1 524.9C1874 531.6 1875.5 538.2 1877.1 544.9C1878.8 551.5 1880.7 559.2 1882.1 564.9C1883.6 570.5 1884.6 575.5 1885.9 578.6C1887.1 581.7 1888.2 583.6 1889.6 583.6C1891.1 583.6 1892.8 581.5 1894.6 578.6C1896.5 575.7 1898.8 571.3 1900.9 566.1C1903 560.9 1905 553.8 1907.1 547.4C1909.2 540.9 1911.5 534.1 1913.4 527.4C1915.2 520.7 1916.7 513.7 1918.4 507.4C1920 501.2 1921.7 494.5 1923.4 489.9C1925 485.4 1926.5 482.2 1928.3 479.9C1930.2 477.7 1932.5 476.6 1934.6 476.2C1936.7 475.8 1938.8 476.2 1940.8 477.4C1942.9 478.7 1945 480.4 1947.1 483.7C1949.2 487 1951.5 492.2 1953.3 497.4C1955.2 502.6 1956.9 508.7 1958.3 514.9C1959.8 521.2 1960.8 527.4 1962.1 534.9C1963.3 542.4 1964.6 550.7 1965.8 559.9C1967.1 569 1968.3 580.7 1969.6 589.8C1970.8 599 1972.3 609.3 1973.3 614.8C1974.3 620.3 1973.9 621.4 1975.8 622.8C1977.7 624.2 1981.4 623.2 1984.5 623.3C1987.7 623.4 1990.8 623.3 1994.5 623.3C1998.3 623.3 2004.5 623.9 2007 623.3C2009.5 622.7 2008.7 624.6 2009.5 619.8C2010.4 615.1 2011.2 604 2012 594.8C2012.9 585.7 2013.7 574.4 2014.5 564.9C2015.4 555.3 2016 544.5 2017 537.4C2018.1 530.3 2019.3 525.9 2020.8 522.4C2022.2 518.9 2024.1 518.2 2025.8 516.2C2027.4 514.1 2029 512.6 2030.8 509.9C2032.5 507.2 2034.7 502 2036 499.9C2037.3 497.8 2037.2 498.3 2038.4 497.4C2039.7 496.6 2041.7 494.7 2043.4 494.9C2045.1 495.1 2046.7 496.8 2048.4 498.7C2050.1 500.6 2051.7 504.6 2053.4 506.2C2055.1 507.7 2056.5 507.1 2058.4 507.9C2060.3 508.8 2063.2 508.3 2064.6 511.2C2066.1 514 2066.3 520.5 2067.1 524.9C2068 529.3 2068.4 534.3 2069.6 537.4C2070.9 540.5 2073 543.2 2074.6 543.6C2076.3 544.1 2078.2 541.3 2079.6 539.9C2081.1 538.5 2081.9 535.2 2083.4 535.4C2084.8 535.6 2086.9 539.9 2088.4 541.1C2089.8 542.4 2090.7 543.9 2092.1 542.9C2093.6 541.8 2095.7 539.1 2097.1 534.9C2098.6 530.7 2099.6 522.4 2100.9 517.4C2102.1 512.4 2103.4 508.3 2104.6 504.9C2105.9 501.6 2107.1 498.8 2108.4 497.4C2109.6 496.1 2110.9 497.8 2112.1 496.9C2113.4 496.1 2114.8 495.7 2115.8 492.4C2116.9 489.2 2117.3 481.8 2118.3 477.4C2119.4 473.1 2120.8 469.1 2122.1 466.2C2123.3 463.3 2124.6 461.4 2125.8 460C2127.1 458.5 2129 457.9 2129.6 457.5" stroke="#f00"/>
<path d="M412.5 502.4C413.7 502.2 417.5 501.6 420 501.2C422.5 500.8 425.4 499.7 427.5 499.9C429.6 500.1 430.8 501.8 432.5 502.4C434.1 503.1 435.8 504.1 437.5 503.7C439.1 503.3 440.8 501.6 442.5 499.9C444.1 498.3 445.4 495.1 447.5 493.7C449.5 492.2 452.5 492 455 491.2C457.4 490.4 460.2 489.5 462.4 488.7C464.7 487.9 466.6 486.2 468.7 486.2C470.8 486.2 472.9 487.9 474.9 488.7C477 489.5 478.7 490.8 481.2 491.2C483.7 491.6 486.8 491.2 489.9 491.2C493 491.2 496.6 491.5 499.9 491.2C503.2 490.9 506.6 490.1 509.9 489.4C513.2 488.8 517 488.3 519.9 487.4C522.8 486.6 524.9 484.9 527.4 484.4C529.9 483.9 532 484.4 534.9 484.4C537.8 484.5 541.5 484.8 544.9 484.9C548.2 485.1 551.5 485 554.9 485.4C558.2 485.9 561.5 486.7 564.9 487.4C568.2 488.2 571.9 488.7 574.8 489.9C577.8 491.2 579.8 492.9 582.3 494.9C584.8 497 587.3 499.9 589.8 502.4C592.3 504.9 595 508 597.3 509.9C599.6 511.8 601.5 512.6 603.6 513.7C605.6 514.7 607.5 514.9 609.8 516.2C612.1 517.4 614.8 520.1 617.3 521.2C619.8 522.2 622.5 522.6 624.8 522.4C627.1 522.2 629.2 519.7 631 519.9C632.9 520.1 634.4 522.8 636 523.7C637.7 524.5 639.4 525.5 641 524.9C642.7 524.3 644.2 521.8 646 519.9C647.9 518 650 516 652.3 513.7C654.6 511.4 657.3 508.5 659.8 506.2C662.3 503.9 664.8 502.2 667.3 499.9C669.8 497.6 672.3 494.7 674.8 492.4C677.3 490.1 679.7 488.1 682.2 486.2C684.7 484.3 687.2 482.4 689.7 481.2C692.2 479.9 694.7 479.2 697.2 478.7C699.7 478.2 702.2 477.8 704.7 477.9C707.2 478.1 709.7 478.5 712.2 479.4C714.7 480.4 717.2 482.3 719.7 483.7C722.2 485.1 724.7 486.5 727.2 487.9C729.7 489.4 732.2 490.6 734.7 492.4C737.2 494.2 739.9 496.8 742.2 498.7C744.5 500.6 746.4 502.4 748.4 503.7C750.5 504.9 752.6 504.9 754.7 506.2C756.8 507.4 759.1 509.1 760.9 511.2C762.8 513.2 764 517 765.9 518.7C767.8 520.3 770.1 520.5 772.2 521.2C774.2 521.8 776.5 521.4 778.4 522.4C780.3 523.4 781.7 525.9 783.4 527.4C785.1 528.9 786.5 530.5 788.4 531.1C790.3 531.8 792.8 531.6 794.6 531.1C796.5 530.7 797.8 528.7 799.6 528.7C801.5 528.7 804 530.1 805.9 531.1C807.8 532.2 809.2 534.1 810.9 534.9C812.5 535.7 814 536.8 815.9 536.1C817.7 535.5 820 532.3 822.1 531.1C824.2 530 826.3 529.2 828.4 529.4C830.4 529.6 832.7 531.9 834.6 532.4C836.5 532.9 837.7 533.2 839.6 532.4C841.5 531.6 843.8 528.7 845.8 527.4C847.9 526.2 850 526.2 852.1 524.9C854.2 523.7 856.5 521.8 858.3 519.9C860.2 518 861.7 516.2 863.3 513.7C865 511.2 866.5 507 868.3 504.9C870.2 502.8 872.5 502.6 874.6 501.2C876.7 499.7 878.7 498.1 880.8 496.2C882.9 494.3 885 491.7 887.1 489.9C889.1 488.1 891.2 486.1 893.3 485.4C895.4 484.8 897.5 486.4 899.6 486.2C901.6 486 903.7 485.3 905.8 484.4C907.9 483.6 910 481.5 912 481.2C914.1 480.9 916.2 481.6 918.3 482.4C920.4 483.3 922.2 484.7 924.5 486.2C926.8 487.6 929.5 489.5 932 491.2C934.5 492.9 937 494.3 939.5 496.2C942 498.1 944.7 500.1 947 502.4C949.3 504.7 951.3 507.9 953.3 509.9C955.2 511.9 956.8 513.6 958.7 514.4C960.7 515.2 962.7 515 965 514.9C967.3 514.8 970 514 972.5 513.7C975 513.3 977.7 513.3 980 512.9C982.3 512.5 984.1 512.3 986.2 511.2C988.3 510 990.4 507.2 992.5 506.2C994.5 505.1 996.4 504.7 998.7 504.9C1001 505.1 1003.5 506.6 1006.2 507.4C1008.9 508.3 1012 508.7 1014.9 509.9C1017.8 511.2 1020.8 513 1023.7 514.9C1026.6 516.8 1029.7 519.1 1032.4 521.2C1035.1 523.2 1037.4 524.9 1039.9 527.4C1042.4 529.9 1044.9 533.2 1047.4 536.1C1049.9 539.1 1052.4 542.2 1054.9 544.9C1057.4 547.6 1060.1 550.5 1062.4 552.4C1064.7 554.3 1066.6 555.4 1068.6 556.1C1070.7 556.9 1072.6 557.3 1074.9 556.9C1077.2 556.5 1079.9 555 1082.4 553.6C1084.9 552.3 1087.4 550.3 1089.9 548.6C1092.4 547 1094.9 545.1 1097.4 543.6C1099.9 542.2 1102.4 541.6 1104.9 539.9C1107.3 538.2 1109.8 536.1 1112.3 533.6C1114.8 531.1 1117.3 527.8 1119.8 524.9C1122.3 522 1124.8 518.5 1127.3 516.2C1129.8 513.9 1132.3 512.2 1134.8 511.2C1137.3 510.1 1139.8 510.6 1142.3 509.9C1144.8 509.2 1147.3 508.1 1149.8 506.9C1152.3 505.8 1154.8 504.2 1157.3 502.9C1159.8 501.7 1162.3 500.4 1164.8 499.4C1167.3 498.4 1169.8 497.6 1172.3 496.9C1174.8 496.3 1177.3 495.8 1179.8 495.4C1182.3 495 1184.8 494.5 1187.3 494.4C1189.8 494.3 1192.3 494.4 1194.8 494.9C1197.3 495.4 1199.8 496.4 1202.3 497.4C1204.8 498.5 1207.3 499.3 1209.8 501.2C1212.3 503.1 1214.8 506.2 1217.3 508.7C1219.7 511.2 1222.2 514.3 1224.7 516.2C1227.2 518 1229.7 518.7 1232.2 519.9C1234.7 521.2 1237.2 522.2 1239.7 523.7C1242.2 525.1 1244.7 527 1247.2 528.7C1249.7 530.3 1252.2 532.2 1254.7 533.6C1257.2 535.1 1259.7 536.4 1262.2 537.4C1264.7 538.4 1267.2 539.4 1269.7 539.9C1272.2 540.4 1274.7 540.8 1277.2 540.4C1279.7 540 1282.2 538.9 1284.7 537.4C1287.2 535.9 1289.7 533.2 1292.2 531.1C1294.7 529.1 1297.4 527.4 1299.7 524.9C1302 522.4 1303.8 519.5 1305.9 516.2C1308 512.8 1309.9 508.5 1312.2 504.9C1314.5 501.4 1317.2 497.8 1319.7 494.9C1322.2 492.1 1324.7 490.1 1327.2 487.9C1329.6 485.8 1332.1 483.7 1334.6 481.9C1337.1 480.2 1339.6 478.5 1342.1 477.4C1344.6 476.4 1347.1 475.8 1349.6 475.5C1352.1 475.1 1354.6 475 1357.1 475.5C1359.6 475.9 1362.1 476.7 1364.6 477.9C1367.1 479.2 1369.6 481.7 1372.1 482.9C1374.6 484.2 1377.1 484.6 1379.6 485.4C1382.1 486.3 1384.6 486.6 1387.1 487.9C1389.6 489.3 1392.1 492 1394.6 493.7C1397.1 495.3 1399.6 496.7 1402.1 497.9C1404.6 499.2 1407.3 499.7 1409.6 501.2C1411.9 502.7 1413.7 505.7 1415.8 506.9C1417.9 508.2 1419.8 508.4 1422.1 508.7C1424.4 509 1427.1 508.7 1429.6 508.7C1432.1 508.7 1434.6 508.8 1437.1 508.7C1439.6 508.5 1442 508.3 1444.5 507.9C1447 507.5 1449.5 506.9 1452 506.2C1454.5 505.5 1457 504.7 1459.5 503.7C1462 502.6 1464.5 501.2 1467 499.9C1469.5 498.7 1472 497.1 1474.5 496.2C1477 495.3 1479.5 494.8 1482 494.4C1484.5 494 1487.2 493.8 1489.5 493.7C1491.8 493.6 1493.8 494 1496 493.7C1498.2 493.4 1500.2 491.9 1502.5 491.9C1504.8 491.9 1507.7 493.6 1510 493.7C1512.3 493.8 1514.3 493.1 1516.2 492.4C1518.1 491.8 1519.3 489.7 1521.2 489.9C1523.1 490.1 1525.4 492.6 1527.5 493.7C1529.5 494.7 1531.4 495.8 1533.7 496.2C1536 496.6 1538.9 495.8 1541.2 496.2C1543.5 496.6 1545.4 497.2 1547.4 498.7C1549.5 500.1 1551.6 502.6 1553.7 504.9C1555.8 507.2 1557.6 509.9 1559.9 512.4C1562.2 514.9 1564.9 517 1567.4 519.9C1569.9 522.8 1572.6 526.6 1574.9 529.9C1577.2 533.2 1579.1 537 1581.2 539.9C1583.2 542.8 1585.1 545.9 1587.4 547.4C1589.7 548.8 1592.6 547.6 1594.9 548.6C1597.2 549.7 1599.3 551.5 1601.1 553.6C1603 555.7 1604.5 559.5 1606.1 561.1C1607.8 562.8 1609.1 563.4 1611.1 563.6C1613.2 563.8 1616.1 562.7 1618.6 562.4C1621.1 562.1 1623.6 561.9 1626.1 561.9C1628.6 561.9 1631.5 563.3 1633.6 562.4C1635.7 561.4 1636.9 559 1638.6 556.1C1640.3 553.2 1641.7 548 1643.6 544.9C1645.5 541.8 1647.6 539.9 1649.8 537.4C1652.1 534.9 1654.8 532.6 1657.3 529.9C1659.8 527.2 1662.3 523 1664.8 521.2C1667.3 519.3 1669.8 519.7 1672.3 518.7C1674.8 517.6 1677.3 516 1679.8 514.9C1682.3 513.8 1684.8 512.5 1687.3 511.9C1689.8 511.3 1692.3 512.5 1694.8 511.2C1697.3 509.8 1700 505.1 1702.3 503.7C1704.6 502.2 1706 502.6 1708.5 502.4C1711 502.3 1714.4 503.8 1717.3 502.9C1720.2 502.1 1723.5 498.8 1726 497.4C1728.5 496.1 1730 495.8 1732.3 494.9C1734.6 494.1 1737.3 494.1 1739.8 492.4C1742.3 490.8 1744.8 486.5 1747.3 484.9C1749.8 483.4 1752.3 483.7 1754.8 482.9C1757.3 482.2 1759.7 481.2 1762.2 480.4C1764.7 479.7 1767.2 478.9 1769.7 478.7C1772.2 478.5 1774.7 479.1 1777.2 479.4C1779.7 479.8 1782.2 480.2 1784.7 480.7C1787.2 481.2 1789.7 481.7 1792.2 482.4C1794.7 483.2 1797.2 484.2 1799.7 484.9C1802.2 485.7 1804.7 486.5 1807.2 486.9C1809.7 487.4 1812.2 487.1 1814.7 487.4C1817.2 487.7 1819.7 488.1 1822.2 488.7C1824.7 489.3 1827.2 490.6 1829.7 491.2C1832.2 491.8 1834.7 492 1837.2 492.4C1839.7 492.9 1842.2 493.4 1844.7 493.7C1847.2 494 1849.7 494.3 1852.2 494.4C1854.7 494.6 1857.2 494.1 1859.7 494.4C1862.2 494.7 1864.7 495.5 1867.2 496.2C1869.6 496.9 1872.1 497.6 1874.6 498.7C1877.1 499.7 1879.6 501 1882.1 502.4C1884.6 503.9 1887.1 505.8 1889.6 507.4C1892.1 509 1894.6 510.5 1897.1 511.9C1899.6 513.4 1902.1 514.7 1904.6 516.2C1907.1 517.6 1909.6 519.6 1912.1 520.4C1914.6 521.2 1917.1 521.2 1919.6 521.2C1922.1 521.2 1924.6 520.7 1927.1 520.4C1929.6 520.1 1932.1 519.6 1934.6 519.4C1937.1 519.2 1939.6 519.2 1942.1 519.2C1944.6 519.2 1947.1 519.4 1949.6 519.4C1952.1 519.4 1954.8 519.1 1957.1 519.2C1959.4 519.2 1961.2 519 1963.3 519.9C1965.4 520.9 1967.3 522.9 1969.6 524.9C1971.8 526.9 1974.6 529.4 1977.1 531.9C1979.6 534.4 1982.3 536.5 1984.5 539.9C1986.8 543.3 1988.7 548.2 1990.8 552.4C1992.9 556.5 1995 561.5 1997 564.9C1999.1 568.2 2001 570.5 2003.3 572.4C2005.6 574.2 2008.3 575.1 2010.8 576.1C2013.3 577.2 2015.8 578 2018.3 578.6C2020.8 579.2 2023.5 579.4 2025.8 579.9C2028 580.3 2030.3 581.1 2032 581.1C2033.7 581.1 2034.5 581.1 2036 579.9C2037.5 578.6 2039.1 576.1 2040.9 573.6C2042.8 571.1 2044.9 568 2047.2 564.9C2049.5 561.7 2052.4 558.6 2054.7 554.9C2056.9 551.1 2058.8 547 2060.9 542.4C2063 537.8 2065.1 532 2067.1 527.4C2069.2 522.8 2071.3 518.9 2073.4 514.9C2075.5 511 2077.5 506.6 2079.6 503.7C2081.7 500.8 2083.8 499.1 2085.9 497.4C2088 495.8 2090 494.9 2092.1 493.7C2094.2 492.4 2096.3 491.1 2098.4 489.9C2100.4 488.8 2102.5 487.1 2104.6 486.9C2106.7 486.7 2108.8 488 2110.9 488.7C2112.9 489.4 2115 491 2117.1 491.2C2119.2 491.4 2121.3 490.4 2123.3 489.9C2125.4 489.5 2128.5 488.9 2129.6 488.7" stroke="#00f"/>
</g>
<g clip-path="url(#c2)" fill="none" stroke-width="7.5" stroke-linejoin="round" stroke-linecap="butt">
<path d="M412.5 882.4C413.3 882.8 415.8 884.2 417.5 884.9C419.1 885.5 420.8 886.5 422.5 886.1C424.1 885.7 425.4 884.5 427.5 882.4C429.6 880.3 432.5 876.5 435 873.6C437.5 870.7 440.2 868.4 442.5 864.9C444.8 861.3 446.8 856.1 448.7 852.4C450.6 848.7 451.8 844.7 453.7 842.4C455.6 840.1 457.9 839.3 459.9 838.7C462 838 463.9 838.2 466.2 838.7C468.5 839.1 471.4 839.7 473.7 841.2C476 842.6 477.8 844.3 479.9 847.4C482 850.5 484.1 855.9 486.2 859.9C488.3 863.8 490.3 867.8 492.4 871.1C494.5 874.5 496.6 877.9 498.7 879.9C500.7 881.8 502.8 882.5 504.9 882.9C507 883.2 509.1 882.6 511.1 881.9C513.2 881.2 515.1 880 517.4 878.6C519.7 877.3 522.4 875.9 524.9 873.6C527.4 871.3 529.9 868 532.4 864.9C534.9 861.8 537.4 857.4 539.9 854.9C542.4 852.4 544.9 850.8 547.4 849.9C549.9 849 552.4 849.2 554.9 849.4C557.4 849.6 559.9 850.3 562.4 851.1C564.9 852 567.3 853 569.8 854.4C572.3 855.8 574.8 857.9 577.3 859.4C579.8 860.9 582.3 862.8 584.8 863.6C587.3 864.5 589.8 864.2 592.3 864.4C594.8 864.6 597.3 865 599.8 864.9C602.3 864.8 604.8 864.9 607.3 863.6C609.8 862.4 612.3 859.1 614.8 857.4C617.3 855.7 619.8 854.7 622.3 853.6C624.8 852.6 627.3 852.2 629.8 851.1C632.3 850.1 634.8 848.4 637.3 847.4C639.8 846.4 642.3 845.5 644.8 844.9C647.3 844.3 649.8 843.7 652.3 843.7C654.8 843.7 657.3 843.9 659.8 844.9C662.3 845.9 664.8 848.4 667.3 849.9C669.8 851.4 672.3 851.8 674.8 853.6C677.3 855.5 679.7 858.4 682.2 861.1C684.7 863.8 687.2 867.6 689.7 869.9C692.2 872.2 694.7 873.5 697.2 874.9C699.7 876.2 702.2 877.5 704.7 877.9C707.2 878.2 709.7 877.6 712.2 876.9C714.7 876.2 717.2 874.8 719.7 873.6C722.2 872.5 724.9 872.2 727.2 869.9C729.5 867.6 731.4 863.2 733.4 859.9C735.5 856.6 737.6 852.2 739.7 849.9C741.8 847.6 743.9 847 745.9 846.2C748 845.3 750.1 846.2 752.2 844.9C754.3 843.7 756.6 840.1 758.4 838.7C760.3 837.2 761.5 836 763.4 836.2C765.3 836.4 767.8 838 769.7 839.9C771.5 841.8 772.8 845.3 774.7 847.4C776.5 849.5 778.8 850.7 780.9 852.4C783 854.1 785.1 855.1 787.2 857.4C789.2 859.7 791.3 863.6 793.4 866.1C795.5 868.6 797.6 871.5 799.6 872.4C801.7 873.2 803.8 872 805.9 871.1C808 870.3 809.8 868.6 812.1 867.4C814.4 866.1 817.5 865.7 819.6 863.6C821.7 861.6 823 858.4 824.6 854.9C826.3 851.4 827.7 845.3 829.6 842.4C831.5 839.5 833.8 838.3 835.9 837.4C837.9 836.5 840 837.5 842.1 836.9C844.2 836.3 846.5 834.6 848.3 833.7C850.2 832.7 851.5 831 853.3 831.2C855.2 831.4 857.5 832.6 859.6 834.9C861.7 837.2 863.7 842.4 865.8 844.9C867.9 847.4 870.2 847.8 872.1 849.9C873.9 852 875.4 854.1 877.1 857.4C878.7 860.7 880.4 865.9 882.1 869.9C883.7 873.8 885.2 878.5 887.1 881.1C888.9 883.7 891.2 884.6 893.3 885.4C895.4 886.1 897.5 885.6 899.6 885.6C901.6 885.7 903.7 886 905.8 885.6C907.9 885.3 910.2 885.4 912 883.6C913.9 881.8 915.4 878.2 917 874.9C918.7 871.5 920.4 867 922 863.6C923.7 860.3 925.4 857.2 927 854.9C928.7 852.6 929.9 851.4 932 849.9C934.1 848.4 937 847.6 939.5 846.2C942 844.7 944.7 842.2 947 841.2C949.3 840.1 951.3 839.8 953.3 839.9C955.2 840 956.8 840.2 958.7 841.9C960.7 843.6 962.9 847.1 965 849.9C967.1 852.7 969.1 856.4 971.2 858.6C973.3 860.9 975.4 861.8 977.5 863.6C979.5 865.5 981.6 868 983.7 869.9C985.8 871.8 987.9 873.6 990 874.9C992 876.1 994.1 876.9 996.2 877.4C998.3 877.9 1000.2 878.1 1002.4 877.9C1004.7 877.7 1007.4 877.9 1009.9 876.1C1012.4 874.4 1014.9 870.7 1017.4 867.4C1019.9 864.1 1022.4 859.9 1024.9 856.1C1027.4 852.4 1029.9 849.1 1032.4 844.9C1034.9 840.7 1037.4 835.3 1039.9 831.2C1042.4 827 1045.1 822.6 1047.4 819.9C1049.7 817.2 1051.6 816 1053.6 814.9C1055.7 813.9 1057.8 813.3 1059.9 813.7C1062 814.1 1064.3 815.3 1066.1 817.4C1068 819.5 1069.5 822.4 1071.1 826.2C1072.8 829.9 1074.3 834.7 1076.1 839.9C1078 845.1 1080.3 851.8 1082.4 857.4C1084.5 863 1086.5 869.1 1088.6 873.6C1090.7 878.2 1092.8 882 1094.9 884.9C1096.9 887.8 1099 889.8 1101.1 891.1C1103.2 892.4 1105.3 893.1 1107.3 892.9C1109.4 892.7 1111.7 892 1113.6 889.9C1115.5 887.7 1116.9 884 1118.6 879.9C1120.3 875.7 1121.9 870.3 1123.6 864.9C1125.2 859.5 1126.9 853 1128.6 847.4C1130.2 841.8 1131.7 836.2 1133.6 831.2C1135.4 826.2 1137.7 820.8 1139.8 817.4C1141.9 814.1 1144 812.4 1146.1 811.2C1148.1 809.9 1150.2 809.5 1152.3 809.9C1154.4 810.4 1156.5 811 1158.6 813.7C1160.6 816.4 1162.9 821.4 1164.8 826.2C1166.7 831 1168.1 836.4 1169.8 842.4C1171.5 848.4 1173.1 856.1 1174.8 862.4C1176.5 868.6 1178.1 874.5 1179.8 879.9C1181.4 885.3 1182.9 890.7 1184.8 894.9C1186.7 899 1188.9 902.6 1191 904.9C1193.1 907.1 1195.2 908.4 1197.3 908.6C1199.3 908.8 1201.4 908.4 1203.5 906.1C1205.6 903.8 1207.9 899.2 1209.8 894.9C1211.6 890.5 1213.1 885.3 1214.8 879.9C1216.4 874.5 1218.1 868.6 1219.7 862.4C1221.4 856.1 1223.1 848.7 1224.7 842.4C1226.4 836.2 1228.1 830.3 1229.7 824.9C1231.4 819.5 1233.1 814.5 1234.7 809.9C1236.4 805.4 1238.1 800.8 1239.7 797.4C1241.4 794.1 1242.9 791.5 1244.7 790C1246.6 788.4 1249.1 787.5 1251 788C1252.8 788.4 1254.3 789.6 1256 792.5C1257.6 795.3 1259.5 800.4 1261 804.9C1262.4 809.5 1263.5 814.9 1264.7 819.9C1266 824.9 1267.2 829.5 1268.5 834.9C1269.7 840.3 1271 846.6 1272.2 852.4C1273.4 858.2 1274.7 864.3 1275.9 869.9C1277.2 875.5 1278.2 880.7 1279.7 886.1C1281.2 891.5 1283 898 1284.7 902.4C1286.4 906.7 1287.8 910.1 1289.7 912.3C1291.6 914.6 1293.8 916.1 1295.9 916.1C1298 916.1 1300.1 915.1 1302.2 912.3C1304.3 909.6 1306.5 904.4 1308.4 899.9C1310.3 895.3 1311.7 890.7 1313.4 884.9C1315.1 879 1316.7 871.5 1318.4 864.9C1320.1 858.2 1321.7 851.1 1323.4 844.9C1325.1 838.7 1326.5 832.2 1328.4 827.4C1330.3 822.6 1332.6 818.7 1334.6 816.2C1336.7 813.7 1338.8 812.6 1340.9 812.4C1343 812.2 1345.3 812.9 1347.1 814.9C1349 817 1350.5 820.8 1352.1 824.9C1353.8 829.1 1355.5 834.5 1357.1 839.9C1358.8 845.3 1360.5 851.1 1362.1 857.4C1363.8 863.6 1365.5 871.1 1367.1 877.4C1368.8 883.6 1370.2 889.7 1372.1 894.9C1374 900.1 1376.3 905.5 1378.4 908.6C1380.4 911.7 1382.5 913.4 1384.6 913.6C1386.7 913.8 1388.8 912.1 1390.8 909.8C1392.9 907.6 1395.2 903.2 1397.1 899.9C1399 896.5 1400.4 894 1402.1 889.9C1403.7 885.7 1405.4 880.7 1407.1 874.9C1408.7 869.1 1410.4 861.6 1412.1 854.9C1413.7 848.2 1415.4 840.7 1417.1 834.9C1418.7 829.1 1420.2 824.3 1422.1 819.9C1423.9 815.6 1426.2 811.3 1428.3 808.7C1430.4 806.1 1432.5 805 1434.6 804.4C1436.6 803.9 1438.9 803.9 1440.8 805.4C1442.7 807 1444.1 810 1445.8 813.7C1447.5 817.3 1449.1 821.8 1450.8 827.4C1452.5 833 1454.1 840.7 1455.8 847.4C1457.5 854.1 1459.1 860.7 1460.8 867.4C1462.4 874 1464.1 882 1465.8 887.4C1467.4 892.8 1469.1 896.5 1470.8 899.9C1472.4 903.2 1473.9 905.9 1475.8 907.3C1477.6 908.8 1479.9 908.8 1482 908.6C1484.1 908.4 1486.4 907.6 1488.3 906.1C1490.1 904.6 1492 901.5 1493.3 899.9C1494.5 898.2 1495.3 898.2 1496 896.1C1496.7 894 1496.4 892.2 1497.5 887.4C1498.6 882.6 1500.8 873.6 1502.5 867.4C1504.1 861.1 1505.8 854.7 1507.5 849.9C1509.1 845.1 1510.8 842 1512.5 838.7C1514.1 835.3 1515.6 833.2 1517.5 829.9C1519.3 826.6 1521.6 821.2 1523.7 818.7C1525.8 816.2 1527.9 814.7 1530 814.9C1532 815.1 1534.3 816.6 1536.2 819.9C1538.1 823.3 1539.5 829.5 1541.2 834.9C1542.9 840.3 1544.5 847 1546.2 852.4C1547.9 857.8 1549.5 862.8 1551.2 867.4C1552.9 872 1554.5 875.7 1556.2 879.9C1557.8 884 1559.5 888.6 1561.2 892.4C1562.8 896.1 1564.5 899.9 1566.2 902.4C1567.8 904.8 1569.5 906.6 1571.2 906.8C1572.8 907.1 1574.5 906 1576.2 903.6C1577.8 901.2 1579.5 896.3 1581.2 892.4C1582.8 888.4 1584.5 884 1586.2 879.9C1587.8 875.7 1589.7 872.4 1591.1 867.4C1592.6 862.4 1593.6 856.6 1594.9 849.9C1596.1 843.2 1597.4 834.9 1598.6 827.4C1599.9 819.9 1601.1 811.6 1602.4 804.9C1603.6 798.3 1604.7 792 1606.1 787.5C1607.6 782.9 1609.3 779.8 1611.1 777.5C1613 775.2 1615.3 775.1 1617.4 773.7C1619.5 772.4 1621.7 770.4 1623.6 769.5C1625.5 768.5 1627 766.6 1628.6 768C1630.3 769.3 1632.2 772.6 1633.6 777.5C1635.1 782.4 1636.1 790.8 1637.4 797.4C1638.6 804.1 1639.9 810.8 1641.1 817.4C1642.4 824.1 1643.6 830.8 1644.9 837.4C1646.1 844.1 1647.3 850.7 1648.6 857.4C1649.8 864.1 1651.1 871.1 1652.3 877.4C1653.6 883.6 1654.8 889 1656.1 894.9C1657.3 900.7 1658.4 906.9 1659.8 912.3C1661.3 917.8 1663.2 923.4 1664.8 927.3C1666.5 931.3 1668.2 934.4 1669.8 936.1C1671.5 937.7 1673.2 937.9 1674.8 937.3C1676.5 936.7 1678.2 935.2 1679.8 932.3C1681.5 929.4 1683.4 924.8 1684.8 919.8C1686.3 914.8 1687.3 909 1688.6 902.4C1689.8 895.7 1691.1 887.8 1692.3 879.9C1693.6 872 1694.8 862.8 1696.1 854.9C1697.3 847 1698.6 839.9 1699.8 832.4C1701.1 824.9 1702.3 817 1703.5 809.9C1704.8 802.9 1705.8 795.8 1707.3 790C1708.8 784.1 1710.4 778.3 1712.3 775C1714.2 771.6 1716.5 770 1718.5 770C1720.6 770 1722.9 771.6 1724.8 775C1726.7 778.3 1728.3 784.1 1729.8 790C1731.2 795.8 1732.3 802.9 1733.5 809.9C1734.8 817 1736 824.9 1737.3 832.4C1738.5 839.9 1739.8 847.4 1741 854.9C1742.3 862.4 1743.5 870.3 1744.8 877.4C1746 884.5 1747.3 891.1 1748.5 897.4C1749.8 903.6 1751 909.4 1752.3 914.8C1753.5 920.3 1754.8 925.7 1756 929.8C1757.3 934 1758.3 937.5 1759.7 939.8C1761.2 942.1 1763.1 943.6 1764.7 943.6C1766.4 943.6 1768.1 942.5 1769.7 939.8C1771.4 937.1 1773.1 932.7 1774.7 927.3C1776.4 921.9 1778.3 914 1779.7 907.3C1781.2 900.7 1782.2 894.4 1783.5 887.4C1784.7 880.3 1786 872.4 1787.2 864.9C1788.5 857.4 1789.7 849.5 1791 842.4C1792.2 835.3 1793.3 829.1 1794.7 822.4C1796.2 815.8 1798 807.4 1799.7 802.4C1801.4 797.4 1802.8 794.6 1804.7 792.5C1806.6 790.3 1808.9 789.2 1811 789.5C1813 789.7 1815.3 790.7 1817.2 793.7C1819.1 796.7 1820.5 801.8 1822.2 807.4C1823.9 813.1 1825.7 820.8 1827.2 827.4C1828.6 834.1 1829.7 840.7 1830.9 847.4C1832.2 854.1 1833.2 860.3 1834.7 867.4C1836.1 874.5 1838 882.8 1839.7 889.9C1841.3 896.9 1843 904 1844.7 909.8C1846.3 915.7 1847.8 921.4 1849.7 924.8C1851.5 928.2 1853.8 930.1 1855.9 930.3C1858 930.5 1860.1 929.1 1862.2 926.1C1864.2 923.1 1866.5 917.5 1868.4 912.3C1870.3 907.1 1871.7 901.5 1873.4 894.9C1875.1 888.2 1876.7 880.3 1878.4 872.4C1880.1 864.5 1881.7 855.3 1883.4 847.4C1885.1 839.5 1886.7 832 1888.4 824.9C1890 817.8 1891.5 810.8 1893.4 804.9C1895.3 799.1 1897.3 793.7 1899.6 790C1901.9 786.2 1904.8 783.1 1907.1 782.5C1909.4 781.8 1911.5 783.3 1913.4 786.2C1915.2 789.1 1916.7 794.3 1918.4 799.9C1920 805.6 1921.9 813.3 1923.4 819.9C1924.8 826.6 1925.8 833.2 1927.1 839.9C1928.3 846.6 1929.6 853.2 1930.8 859.9C1932.1 866.6 1933.1 872.8 1934.6 879.9C1936 887 1937.9 896.1 1939.6 902.4C1941.3 908.6 1942.9 913.2 1944.6 917.3C1946.2 921.5 1947.9 925.2 1949.6 927.3C1951.2 929.5 1952.7 930.7 1954.6 930.3C1956.4 929.9 1958.9 928.2 1960.8 924.8C1962.7 921.4 1964.1 916.1 1965.8 909.8C1967.5 903.6 1969.1 895.3 1970.8 887.4C1972.5 879.5 1974.1 870.7 1975.8 862.4C1977.5 854.1 1979.1 845.3 1980.8 837.4C1982.5 829.5 1984.1 821.6 1985.8 814.9C1987.5 808.3 1989.1 802 1990.8 797.4C1992.5 792.9 1993.9 789.7 1995.8 787.5C1997.7 785.2 1999.9 784.1 2002 783.7C2004.1 783.3 2006.2 784.3 2008.3 785C2010.4 785.7 2012.4 786.7 2014.5 788C2016.6 789.2 2018.9 790 2020.8 792.5C2022.6 794.9 2024.1 797.9 2025.8 802.4C2027.4 807 2029.3 814.5 2030.8 819.9C2032.2 825.3 2033.4 829.5 2034.5 834.9C2035.6 840.3 2036.1 846.6 2037.2 852.4C2038.2 858.2 2039.7 864.1 2040.9 869.9C2042.2 875.7 2043.2 881.5 2044.7 887.4C2046.1 893.2 2048 900.1 2049.7 904.9C2051.3 909.6 2053 913.7 2054.7 916.1C2056.3 918.5 2058 919.5 2059.6 919.3C2061.3 919.1 2063 917.7 2064.6 914.8C2066.3 912 2068 907.3 2069.6 902.4C2071.3 897.4 2073.2 891.1 2074.6 884.9C2076.1 878.6 2077.1 871.5 2078.4 864.9C2079.6 858.2 2080.9 851.1 2082.1 844.9C2083.4 838.7 2084.4 832.8 2085.9 827.4C2087.3 822 2089 816.4 2090.9 812.4C2092.7 808.5 2094.8 805.6 2097.1 803.7C2099.4 801.8 2102.3 801 2104.6 801.2C2106.9 801.4 2109 801.8 2110.9 804.9C2112.7 808.1 2114.4 814.5 2115.8 819.9C2117.3 825.3 2118.3 832 2119.6 837.4C2120.8 842.8 2122.1 847.8 2123.3 852.4C2124.6 857 2126 862.2 2127.1 864.9C2128.1 867.6 2129.2 868 2129.6 868.6" stroke="#f00"/>
<path d="M412.5 862.4C413.7 862.4 417.7 863 420 862.4C422.3 861.8 424.1 860.1 426.2 858.6C428.3 857.2 430.4 854.6 432.5 853.6C434.6 852.7 436.6 852.8 438.7 852.9C440.8 853 443.1 854.5 445 854.4C446.8 854.3 448.1 853.4 450 852.4C451.8 851.4 454.1 848.4 456.2 848.7C458.3 848.9 460.2 852 462.4 853.6C464.7 855.3 467.4 857 469.9 858.6C472.4 860.3 474.9 861.6 477.4 863.6C479.9 865.7 482.4 868.9 484.9 871.1C487.4 873.3 489.9 875.8 492.4 876.9C494.9 878 497.6 878.4 499.9 877.9C502.2 877.3 503.9 875.6 506.2 873.6C508.4 871.7 511.1 868.5 513.6 866.1C516.1 863.8 518.6 861.7 521.1 859.4C523.6 857.1 526.3 854.3 528.6 852.4C530.9 850.5 532.8 848.7 534.9 847.9C537 847.1 539 846.6 541.1 847.4C543.2 848.2 545.1 850.8 547.4 852.9C549.7 855 552.4 857.3 554.9 859.9C557.4 862.5 559.9 866.1 562.4 868.6C564.9 871.1 567.3 873.3 569.8 874.9C572.3 876.4 574.8 877.5 577.3 877.9C579.8 878.3 582.3 878.3 584.8 877.4C587.3 876.5 589.8 873.8 592.3 872.4C594.8 870.9 597.5 869.9 599.8 868.6C602.1 867.4 604.2 867.2 606.1 864.9C607.9 862.6 609.4 857.6 611.1 854.9C612.7 852.2 614 850.1 616.1 848.7C618.1 847.2 621.3 847.1 623.5 846.2C625.8 845.2 627.7 843.6 629.8 842.9C631.9 842.2 634 841.8 636 841.9C638.1 842 640 842.8 642.3 843.7C644.6 844.5 646.9 846.2 649.8 846.9C652.7 847.6 656.4 847.6 659.8 847.9C663.1 848.2 666.8 848.4 669.8 848.7C672.7 848.9 675 849.2 677.3 849.4C679.5 849.6 681.4 849 683.5 849.9C685.6 850.8 687.4 853.2 689.7 854.9C692 856.6 694.7 857.8 697.2 859.9C699.7 862 702.2 865.1 704.7 867.4C707.2 869.7 709.7 871.8 712.2 873.6C714.7 875.5 717.4 877 719.7 878.6C722 880.3 723.9 882.8 726 883.6C728 884.5 730.1 884.9 732.2 883.6C734.3 882.4 736.4 878.2 738.4 876.1C740.5 874 742.4 872.4 744.7 871.1C747 869.9 750.1 870.5 752.2 868.6C754.3 866.8 755.5 863 757.2 859.9C758.8 856.8 760.5 852.2 762.2 849.9C763.8 847.6 765.3 846.4 767.2 846.2C769 845.9 771.3 848.2 773.4 848.7C775.5 849.1 777.6 848.9 779.7 848.7C781.7 848.4 783.8 846.7 785.9 846.9C788 847.1 790.1 848.4 792.1 849.9C794.2 851.4 796.3 855.2 798.4 856.1C800.5 857.1 802.6 855.6 804.6 855.4C806.7 855.2 808.8 854.4 810.9 854.9C813 855.4 815.3 857.8 817.1 858.6C819 859.5 820.5 860.5 822.1 859.9C823.8 859.3 825.2 856.6 827.1 854.9C829 853.2 831.3 850.7 833.4 849.9C835.4 849.1 837.5 850.1 839.6 849.9C841.7 849.7 843.8 849.7 845.8 848.7C847.9 847.6 850 844.9 852.1 843.7C854.2 842.4 856.3 841.4 858.3 841.2C860.4 841 862.5 842.6 864.6 842.4C866.7 842.2 869 840.4 870.8 839.9C872.7 839.4 874.2 838.6 875.8 839.4C877.5 840.2 878.9 842.5 880.8 844.9C882.7 847.3 885 851.6 887.1 853.6C889.1 855.7 891.2 855.9 893.3 857.4C895.4 858.9 897.5 859.9 899.6 862.4C901.6 864.9 903.9 869.3 905.8 872.4C907.7 875.5 908.9 879.5 910.8 881.1C912.7 882.8 914.7 882.6 917 882.4C919.3 882.2 922 880.5 924.5 879.9C927 879.2 929.5 878.8 932 878.6C934.5 878.4 937.2 879.7 939.5 878.6C941.8 877.6 943.7 875.1 945.8 872.4C947.8 869.7 949.8 865 952 862.4C954.2 859.8 956.6 858.1 958.7 856.9C960.9 855.6 962.9 856.1 965 854.9C967.1 853.7 969.1 851.6 971.2 849.9C973.3 848.2 975.2 845.9 977.5 844.9C979.8 843.9 982.5 843.6 985 843.7C987.5 843.7 990 844.4 992.5 845.4C995 846.4 997.4 847.7 999.9 849.9C1002.4 852.1 1004.9 855.7 1007.4 858.6C1009.9 861.6 1012.4 864.7 1014.9 867.4C1017.4 870.1 1019.9 873.1 1022.4 874.9C1024.9 876.7 1027.4 877.8 1029.9 878.1C1032.4 878.5 1034.9 878 1037.4 876.9C1039.9 875.7 1042.4 873.3 1044.9 871.1C1047.4 868.9 1049.9 866.6 1052.4 863.6C1054.9 860.7 1057.4 857 1059.9 853.6C1062.4 850.3 1064.9 846.8 1067.4 843.7C1069.9 840.5 1072.4 837.2 1074.9 834.9C1077.4 832.6 1079.9 831 1082.4 829.9C1084.9 828.9 1087.4 828.7 1089.9 828.7C1092.4 828.7 1095.1 828.9 1097.4 829.9C1099.6 831 1101.5 832.8 1103.6 834.9C1105.7 837 1107.6 840.1 1109.8 842.4C1112.1 844.7 1114.8 846.8 1117.3 848.7C1119.8 850.5 1122.3 852.4 1124.8 853.6C1127.3 854.9 1129.8 855.4 1132.3 856.1C1134.8 856.9 1137.3 857.4 1139.8 857.9C1142.3 858.4 1144.8 859.1 1147.3 859.4C1149.8 859.7 1152.3 859.6 1154.8 859.9C1157.3 860.2 1159.8 860.9 1162.3 861.1C1164.8 861.3 1167.3 860.9 1169.8 861.1C1172.3 861.3 1174.8 862.1 1177.3 862.4C1179.8 862.7 1182.3 862.8 1184.8 862.9C1187.3 863 1189.8 862.8 1192.3 862.9C1194.8 863 1197.3 863.1 1199.8 863.6C1202.3 864.2 1204.8 865.3 1207.3 866.1C1209.8 867 1212.3 868 1214.8 868.6C1217.3 869.3 1219.7 869.5 1222.2 869.9C1224.7 870.3 1227.2 871.2 1229.7 871.1C1232.2 871 1234.9 870.8 1237.2 869.4C1239.5 867.9 1241.4 864.6 1243.5 862.4C1245.6 860.2 1247.6 857.8 1249.7 856.1C1251.8 854.5 1253.9 853.9 1256 852.4C1258 850.9 1260.1 849.3 1262.2 847.4C1264.3 845.5 1266.4 842.7 1268.5 841.2C1270.5 839.6 1272.4 838.5 1274.7 837.9C1277 837.3 1279.7 837.4 1282.2 837.4C1284.7 837.4 1287.2 837.7 1289.7 837.9C1292.2 838.1 1294.7 838.3 1297.2 838.7C1299.7 839 1302.2 838.9 1304.7 839.9C1307.2 841 1309.7 843.4 1312.2 844.9C1314.7 846.4 1317.2 847.2 1319.7 848.7C1322.2 850.1 1324.7 852 1327.2 853.6C1329.6 855.3 1332.1 856.6 1334.6 858.6C1337.1 860.7 1339.6 864.1 1342.1 866.1C1344.6 868.2 1347.1 869.7 1349.6 871.1C1352.1 872.6 1354.6 873.9 1357.1 874.9C1359.6 875.8 1362.1 876.4 1364.6 876.9C1367.1 877.4 1369.6 877.7 1372.1 877.9C1374.6 878.1 1377.3 879 1379.6 878.1C1381.9 877.2 1383.8 874.6 1385.8 872.4C1387.9 870.2 1390 866.3 1392.1 864.9C1394.2 863.4 1396.3 863.8 1398.3 863.6C1400.4 863.4 1402.5 864.3 1404.6 863.6C1406.7 863 1408.7 861.1 1410.8 859.9C1412.9 858.6 1414.8 856.9 1417.1 856.1C1419.4 855.4 1422.1 855.7 1424.6 855.4C1427.1 855.1 1429.6 854.9 1432.1 854.4C1434.6 853.9 1437.1 852.7 1439.6 852.4C1442 852.1 1444.5 852.2 1447 852.4C1449.5 852.6 1452 853.2 1454.5 853.6C1457 854.1 1459.5 854.6 1462 854.9C1464.5 855.2 1467 855.2 1469.5 855.4C1472 855.6 1474.5 855.9 1477 856.1C1479.5 856.4 1482.2 856.2 1484.5 856.9C1486.8 857.6 1488.8 859.1 1490.8 860.4C1492.7 861.7 1494 864.1 1496 864.9C1498 865.6 1500.4 865 1502.5 864.9C1504.6 864.8 1506.6 863.8 1508.7 864.4C1510.8 865 1513.1 867.7 1515 868.6C1516.8 869.6 1518.1 870.6 1520 869.9C1521.8 869.2 1524.1 865.6 1526.2 864.4C1528.3 863.2 1530.4 862.8 1532.5 862.9C1534.5 863 1536.6 864.1 1538.7 864.9C1540.8 865.7 1542.9 867.7 1544.9 867.9C1547 868.1 1549.1 867 1551.2 866.1C1553.3 865.3 1555.3 862.8 1557.4 862.9C1559.5 863 1561.6 865.3 1563.7 866.9C1565.8 868.5 1567.8 872.3 1569.9 872.4C1572 872.5 1574.1 869.1 1576.2 867.4C1578.2 865.7 1580.1 863.2 1582.4 862.4C1584.7 861.6 1587.6 863.2 1589.9 862.4C1592.2 861.6 1594.1 860.3 1596.1 857.4C1598.2 854.5 1600.3 848.4 1602.4 844.9C1604.5 841.4 1606.6 837.8 1608.6 836.2C1610.7 834.5 1612.8 835.5 1614.9 834.9C1617 834.4 1619 834.6 1621.1 832.9C1623.2 831.3 1625.3 826.5 1627.4 824.9C1629.4 823.4 1631.5 823.3 1633.6 823.7C1635.7 824.1 1637.6 826.6 1639.9 827.4C1642.1 828.3 1644.9 828.2 1647.3 828.7C1649.8 829.2 1652.3 829.2 1654.8 830.4C1657.3 831.7 1660 834 1662.3 836.2C1664.6 838.4 1666.7 840.5 1668.6 843.7C1670.5 846.8 1671.7 851.1 1673.6 854.9C1675.4 858.6 1677.5 863.6 1679.8 866.1C1682.1 868.6 1684.8 868.6 1687.3 869.9C1689.8 871.1 1692.5 872.8 1694.8 873.6C1697.1 874.5 1699.2 875.5 1701.1 874.9C1702.9 874.3 1704.4 872.4 1706 869.9C1707.7 867.4 1709.4 862.4 1711 859.9C1712.7 857.4 1714.2 856.1 1716 854.9C1717.9 853.6 1720.2 853.6 1722.3 852.4C1724.4 851.2 1726.4 848.9 1728.5 847.9C1730.6 846.9 1732.5 846 1734.8 846.2C1737.1 846.3 1739.8 847.8 1742.3 848.7C1744.8 849.5 1747.5 849.9 1749.8 851.1C1752 852.4 1753.9 853.9 1756 856.1C1758.1 858.4 1760 862.2 1762.2 864.9C1764.5 867.6 1767.2 870.4 1769.7 872.4C1772.2 874.4 1774.7 875.9 1777.2 876.9C1779.7 877.8 1782.2 878.3 1784.7 878.1C1787.2 878 1789.7 877.5 1792.2 876.1C1794.7 874.8 1797.2 871.8 1799.7 869.9C1802.2 867.9 1804.7 866.1 1807.2 864.4C1809.7 862.6 1812.4 861.4 1814.7 859.4C1817 857.4 1819.1 854.2 1820.9 852.4C1822.8 850.6 1824.1 848.4 1825.9 848.7C1827.8 848.9 1829.9 852.4 1832.2 853.6C1834.5 854.9 1837.2 855.1 1839.7 856.1C1842.2 857.2 1844.7 858.4 1847.2 859.9C1849.7 861.3 1852.2 863.4 1854.7 864.9C1857.2 866.3 1859.7 867.7 1862.2 868.6C1864.7 869.6 1867.2 870.2 1869.6 870.4C1872.1 870.6 1874.6 870.6 1877.1 869.9C1879.6 869.2 1882.1 867.4 1884.6 866.1C1887.1 864.9 1889.6 863.4 1892.1 862.4C1894.6 861.3 1897.1 860.7 1899.6 859.9C1902.1 859.1 1904.6 858.6 1907.1 857.4C1909.6 856.1 1912.1 853.6 1914.6 852.4C1917.1 851.1 1919.6 850.2 1922.1 849.9C1924.6 849.6 1927.1 850.5 1929.6 850.4C1932.1 850.3 1934.6 850.1 1937.1 849.4C1939.6 848.7 1942.3 846.4 1944.6 846.2C1946.9 845.9 1948.7 846.4 1950.8 847.9C1952.9 849.4 1954.8 853.5 1957.1 854.9C1959.4 856.3 1962.3 855.5 1964.6 856.1C1966.9 856.8 1968.7 857.2 1970.8 858.6C1972.9 860.1 1975 862.8 1977.1 864.9C1979.1 867 1981.2 869.9 1983.3 871.1C1985.4 872.4 1987.3 872.8 1989.5 872.4C1991.8 872 1994.5 870.3 1997 868.6C1999.5 867 2002.2 865.1 2004.5 862.4C2006.8 859.7 2008.7 856.6 2010.8 852.4C2012.9 848.2 2014.9 842.4 2017 837.4C2019.1 832.4 2021.2 826.8 2023.3 822.4C2025.3 818.1 2027.4 814 2029.5 811.2C2031.6 808.4 2034.7 806.6 2036 805.4C2037.3 804.3 2035.7 804.7 2037.2 804.4C2038.6 804.2 2042.4 803.2 2044.7 803.7C2047 804.2 2048.8 805.1 2050.9 807.4C2053 809.7 2054.9 814.1 2057.2 817.4C2059.4 820.8 2062.4 823.7 2064.6 827.4C2066.9 831.2 2068.8 835.3 2070.9 839.9C2073 844.5 2075.1 851.1 2077.1 854.9C2079.2 858.6 2081.3 859.9 2083.4 862.4C2085.5 864.9 2087.3 867 2089.6 869.9C2091.9 872.8 2094.8 877.5 2097.1 879.9C2099.4 882.3 2101.3 884.5 2103.4 884.4C2105.4 884.3 2107.3 880.9 2109.6 879.4C2111.9 877.9 2114.6 876.3 2117.1 875.4C2119.6 874.4 2122.5 874.3 2124.6 873.6C2126.7 872.9 2128.8 871.5 2129.6 871.1" stroke="#00f"/>
</g>
<g clip-path="url(#c3)" stroke-width="4" stroke-linejoin="round">
<path d="M412.5 1179.4L415.4 1188.2L417.5 1186.9L419.9 1200.2L423.7 1201.9L426.2 1212.8L427.5 1209.4L430 1205.9L432.5 1194.4L434.7 1191.7L437.5 1186.9L440.4 1190.5L442.5 1184.4L444.3 1186.9L447.5 1179.4L450.6 1171.8L452.5 1159.4L455 1159.2L457.4 1153.2L460.8 1154.9L463.7 1151.9L466 1166.2L468.7 1166.9L470.9 1170.1L473.7 1169.4L475.3 1166.7L477.4 1161.9L480.3 1168.2L483.7 1161.9L486.8 1176.2L488.7 1179.4L490.5 1189L493.7 1186.9L496.1 1195.3L499.9 1196.9L502.6 1202.8L506.2 1204.4L509.1 1209.5L512.4 1204.4L515 1206.3L518.6 1199.4L521.1 1202.2L524.9 1194.4L527.5 1192.2L529.9 1186.9L533.1 1186.4L536.1 1179.4L538 1178.7L541.1 1171.9L543.8 1178L547.4 1174.4L549.7 1178.9L552.4 1171.9L554.8 1174.3L557.4 1166.9L559.2 1164.5L562.4 1159.4L565.2 1169.3L567.3 1169.4L569.3 1175.1L572.3 1171.9L574.6 1172.6L577.3 1169.4L579.9 1170.1L581.1 1160.7L583.6 1171.7L586.1 1174.4L588.4 1176.8L591.1 1171.9L593.6 1174.7L596.1 1166.9L599.6 1167.9L602.3 1165.7L605.2 1174.6L607.3 1176.9L609.6 1178.5L612.3 1169.4L615.2 1166L617.3 1156.9L620.6 1167.3L623.5 1171.9L626.3 1178L629.8 1181.9L632.5 1178.4L634.8 1166.9L637.6 1162L639.8 1150.7L643.4 1163.3L646 1169.4L648.6 1177.2L651 1174.4L654.8 1172.7L657.3 1166.9L660.7 1175.1L663.5 1174.4L666.9 1179.6L669.8 1176.9L673.1 1181.3L676 1176.9L679 1179.3L682.2 1179.4L685.6 1185.6L688.5 1186.9L690.4 1194.7L693.5 1194.4L696.2 1198.7L699.7 1196.9L702.4 1198.4L704.7 1191.9L707.1 1199.4L711 1201.9L712.9 1202.2L716 1196.9L718.6 1191.6L721 1179.4L722.9 1183.3L724.7 1178.1L727.6 1186.3L729.7 1184.4L732.3 1189L734.7 1186.9L737.3 1179.1L739.7 1156.9L742.3 1158.7L745.9 1146.9L748 1153.2L749.7 1149.4L751.8 1162.9L754.7 1169.4L757.8 1173L759.7 1161.9L762.8 1155.5L764.7 1139.4L767.6 1141.9L769.2 1136.9L770.8 1148.5L773.4 1154.4L776.9 1170.8L779.7 1179.4L781.8 1181.7L784.7 1181.9L786.8 1178L789.6 1161.9L792.3 1176.8L794.6 1176.9L798.1 1190.8L800.9 1194.4L803.4 1196.6L805.9 1186.9L809 1182.3L812.1 1171.9L814 1175.2L817.1 1166.9L820.2 1173.4L822.1 1171.9L825.1 1170.5L828.4 1166.9L830.8 1157.5L833.4 1136.9L836 1136.1L837.6 1128.2L839.2 1135.5L842.1 1136.9L844.3 1154.9L847.1 1161.9L849.6 1163.8L852.1 1151.9L854.1 1148L857.1 1135.7L859.2 1146.3L862.1 1144.4L863.9 1168.1L867.1 1179.4L870.5 1184.3L873.3 1174.4L876 1178.4L878.3 1169.4L880.5 1181.3L883.3 1181.9L885.7 1193.9L888.3 1201.9L890.9 1204.4L894.6 1196.9L897.2 1195.8L899.6 1191.9L902.6 1196.1L905.8 1186.9L909.5 1189.3L912 1181.9L914.7 1180.8L918.3 1176.9L921.5 1179.9L924.5 1174.4L927.3 1174.6L930.8 1169.4L932.9 1170L935.8 1161.9L939.2 1167.7L942 1161.9L944.6 1162.2L948.3 1159.4L951.3 1163L953.3 1156.9L955.3 1160.6L958.7 1158.2L961.9 1161.4L963.7 1161.9L966.9 1169.4L968.7 1171.9L971.4 1185.7L973.7 1186.9L977 1188.2L980 1184.4L983.5 1186.6L986.2 1181.9L989.8 1193.1L992.5 1191.9L995.9 1196.7L998.7 1191.9L1001.4 1196L1004.9 1196.9L1009.1 1198.7L1012.4 1194.4L1016.3 1185.7L1019.9 1171.9L1023.2 1170.9L1027.4 1161.9L1031.7 1162.8L1034.9 1156.9L1036.9 1149.6L1039.9 1136.9L1041.8 1135.7L1044.9 1129.4L1048.3 1136.6L1051.1 1136.9L1053.7 1142.2L1057.4 1139.4L1060.8 1139.8L1063.6 1134.4L1066.4 1143L1069.9 1146.9L1072.8 1162.8L1076.1 1173.9L1079.6 1174.8L1082.4 1171.9L1085.7 1179L1088.6 1181.9L1092.4 1192.1L1094.9 1191.9L1097.9 1189.5L1101.1 1184.4L1104.3 1190.2L1107.3 1186.9L1111 1191L1113.6 1191.9L1116.4 1196.5L1119.8 1186.9L1122.6 1184.2L1126.1 1174.4L1128.6 1166.1L1132.3 1151.9L1134.7 1142.8L1137.3 1129.4L1139.3 1127.9L1142.3 1123.2L1145.3 1130.8L1147.3 1124.4L1150.4 1130.6L1153.6 1134.4L1157 1139.1L1159.8 1136.9L1163.4 1143.7L1166 1144.4L1168.6 1159.9L1172.3 1171.9L1174.9 1188.3L1178.5 1196.9L1180.9 1203.2L1183.5 1204.4L1186.3 1210.7L1188.5 1211.9L1190.8 1216.7L1193.5 1216.9L1197 1216.8L1199.8 1209.4L1203.3 1217.4L1206 1211.9L1208.7 1214.5L1211 1209.4L1212.6 1201.4L1214.8 1181.9L1216.6 1175.4L1219.7 1161.9L1222.6 1160.9L1226 1154.4L1228.5 1152.7L1232.2 1139.4L1235.2 1135L1237.2 1126.9L1239.6 1126.3L1242.2 1115.7L1245.5 1118.2L1248.5 1114.5L1251.6 1118.9L1254.7 1112L1258.5 1122.6L1261 1121.9L1264 1135L1266 1144.4L1268.8 1163.2L1271 1174.4L1273.6 1176.4L1275.9 1169.4L1277.8 1186.9L1280.9 1191.9L1283.4 1203.1L1285.9 1211.9L1288.1 1218.5L1290.9 1218.1L1294.4 1220.9L1297.2 1214.4L1301 1213.9L1303.4 1206.9L1305.8 1210.9L1308.4 1201.9L1310.3 1200.8L1313.4 1186.9L1316.5 1186L1318.4 1181.9L1321.8 1167.6L1324.7 1144.4L1327 1145.9L1329.6 1139.4L1332.3 1139.6L1335.9 1131.9L1338.8 1137.5L1342.1 1136.9L1345.1 1143.5L1348.4 1141.9L1351.8 1150.7L1354.6 1146.9L1357.6 1162.7L1360.9 1169.4L1363.7 1179.5L1367.1 1184.4L1370.4 1199.7L1373.4 1211.9L1377.1 1218L1379.6 1214.4L1382.5 1223.8L1384.6 1221.9L1387.4 1230.2L1389.6 1224.4L1391.7 1221.4L1394.6 1206.9L1397.8 1206.2L1399.6 1191.9L1402.6 1195.4L1405.8 1191.9L1408.9 1179.6L1410.8 1156.9L1413.6 1151.7L1415.8 1139.4L1418 1140.1L1419.1 1129.4L1422 1137.4L1424.6 1139.4L1427.4 1137.8L1429.6 1131.9L1433.1 1130.8L1435.8 1126.9L1438.8 1136L1442 1134.4L1444.9 1145.6L1448.3 1144.4L1450.1 1156.9L1453.3 1156.9L1455.3 1176.6L1458.3 1186.9L1461.7 1196.7L1464.5 1196.9L1468.1 1204.5L1470.8 1209.4L1474.1 1216.2L1477 1216.9L1480 1220.6L1482 1219.4L1484.7 1214.8L1488.3 1206.9L1490.2 1206.4L1493.3 1201.9L1496.4 1207.5L1498.7 1204.4L1500.8 1199.3L1502.5 1181.9L1504.4 1168.6L1507.5 1151.9L1510.2 1152.9L1512.5 1146.9L1515 1149.7L1517.5 1149.4L1519.8 1154.9L1522.5 1156.9L1525.6 1146.1L1527.5 1126.9L1529.7 1131.6L1532.5 1124.4L1535.3 1129.8L1537.4 1126.9L1539.9 1145.4L1542.4 1156.9L1545.3 1167.2L1548.7 1166.9L1551.2 1179.7L1554.9 1179.4L1557.5 1188.2L1561.2 1191.9L1565 1201L1567.4 1206.9L1570 1214.1L1573.7 1214.4L1577.2 1214.4L1579.9 1201.9L1582.3 1193L1584.9 1181.9L1587 1176.3L1589.9 1161.9L1591.8 1159.5L1594.9 1149.4L1597.4 1144.1L1599.9 1124.4L1602.3 1113L1604.9 1094.5L1608.2 1099.5L1611.1 1090.7L1613.5 1095L1616.1 1097L1619.1 1103.5L1622.4 1099.5L1624.4 1099.1L1627.4 1087L1630.6 1088.2L1632.4 1082L1634.8 1097L1637.4 1104.5L1638.8 1118.5L1641.1 1121.9L1643.5 1148.4L1644.9 1171.9L1648.4 1177.9L1651.1 1179.4L1653.2 1188L1656.1 1186.9L1658.1 1206.5L1661.1 1211.9L1663.4 1222.1L1666.1 1226.9L1669.2 1226.3L1671.1 1221.9L1673.8 1222.2L1676.1 1219.4L1678.7 1224L1681.1 1221.9L1683.2 1221.9L1686.1 1216.9L1687.9 1215.1L1689.8 1201.9L1691.6 1179.2L1693.6 1154.4L1696.1 1155.6L1699.8 1146.9L1702.1 1139.4L1704.8 1129.4L1707.5 1119.9L1709.8 1104.5L1712.6 1099.1L1714.8 1087L1717 1096.6L1719.8 1092L1722.2 1109L1724.8 1112L1727.9 1123.9L1729.8 1126.9L1731.8 1131.5L1734.8 1126.9L1736.2 1138.6L1738.5 1141.9L1740.2 1165.8L1742.3 1186.9L1744.4 1206.7L1747.3 1211.9L1750.2 1221.4L1752.3 1219.4L1754.4 1224.1L1757.3 1221.9L1760.3 1232.3L1762.2 1229.3L1765.1 1232.5L1767.2 1231.8L1770.2 1230.4L1772.2 1226.9L1774.9 1228.5L1777.2 1216.9L1779.9 1217.6L1782.2 1206.9L1783.5 1204L1786 1186.9L1787.8 1174.8L1789.7 1159.4L1791.6 1158.1L1794.7 1144.4L1797.6 1142.7L1799.7 1129.4L1802.6 1127.4L1804.7 1119.4L1807.3 1121.5L1811 1112L1813 1120.9L1815.9 1124.4L1818.3 1134L1820.9 1136.9L1822.9 1144.2L1825.9 1143.2L1828.5 1150.5L1830.9 1146.9L1832.8 1166.4L1834.7 1181.9L1836.8 1202.5L1838.4 1209.4L1840.6 1219.2L1843.4 1216.9L1846.5 1218.3L1848.4 1214.4L1851.6 1228.2L1853.4 1231.8L1855.4 1242.8L1858.4 1241.8L1860.3 1243.3L1863.4 1231.8L1866.2 1222.9L1868.4 1206.9L1871 1205.5L1874.6 1196.9L1877 1187.6L1878.4 1166.9L1881.5 1158.6L1883.4 1144.4L1885.3 1145L1888.4 1131.9L1891.6 1132.5L1894.6 1128.2L1897.7 1119.9L1899.6 1108.2L1903.1 1111.6L1905.9 1107L1909.7 1111.5L1912.1 1107L1915.9 1117L1919.6 1119.4L1922.7 1137L1925.8 1146.9L1928.3 1170.4L1929.6 1186.9L1931.6 1200.7L1934.6 1201.9L1937 1212.7L1939.6 1209.4L1941.8 1215.3L1944.6 1211.9L1948.1 1215.8L1950.8 1214.4L1954.2 1217.5L1957.1 1216.9L1959.7 1216L1963.3 1211.9L1965.4 1208.5L1967.1 1201.9L1968.4 1196.4L1970.8 1186.9L1972.7 1174.5L1975.8 1156.9L1978.1 1158.7L1980.8 1156.9L1983.8 1152.1L1985.8 1136.9L1988.8 1129.8L1990.8 1117L1994.6 1118.2L1997 1112L2000.5 1115.1L2003.3 1109.5L2006.9 1109.3L2009.5 1099.5L2012.3 1105.7L2014.5 1104.5L2017.9 1117.7L2020.8 1119.4L2023.3 1131.9L2025.8 1131.9L2028.7 1150.6L2030.8 1156.9L2032.1 1170.1L2034.5 1174.4L2036.7 1190.5L2039.7 1191.9L2042.4 1202.1L2044.7 1201.9L2047.4 1205.9L2049.7 1204.4L2052.7 1211.5L2055.9 1206.9L2058.5 1220.1L2060.9 1221.9L2062.8 1228.2L2065.9 1226.9L2067.1 1225.8L2069.6 1211.9L2071.5 1202.9L2073.4 1181.9L2075.9 1180.6L2078.4 1166.9L2081.1 1161.8L2083.4 1144.4L2086.4 1140.7L2088.4 1126.9L2091.6 1125.6L2093.4 1121.9L2095.3 1124L2098.4 1123.2L2100.2 1127.9L2103.4 1129.4L2105.7 1132.4L2108.4 1129.4L2111.1 1131.6L2113.4 1119.4L2115.7 1126.8L2118.3 1126.9L2120.5 1134.7L2122.1 1134.4L2124.5 1153.6L2125.8 1161.9L2127.9 1180.6L2129.6 1186.9L2129.6 1205.4L2127.9 1192.9L2125.8 1187.9L2124.6 1173.2L2122.1 1170.4L2120.7 1160.7L2118.3 1162.9L2115.2 1156.5L2113.4 1157.9L2110.5 1153L2108.4 1161.7L2105.4 1155.3L2103.4 1160.4L2100.8 1156.7L2098.4 1157.9L2095.7 1142.2L2093.4 1132.9L2090.5 1136.3L2088.4 1152.9L2086 1159.7L2083.4 1177.9L2081.3 1174.4L2078.4 1182.9L2075.2 1191.3L2073.4 1207.9L2071.4 1223.7L2069.6 1242.8L2067.1 1245.9L2065.9 1252.8L2063.1 1244.9L2060.9 1247.8L2058.8 1241.9L2055.9 1242.8L2052.5 1231.1L2049.7 1227.8L2047.3 1225.5L2044.7 1225.3L2041.8 1215.6L2039.7 1212.9L2037.5 1201.3L2034.5 1202.9L2032.2 1186.3L2030.8 1177.9L2027.6 1161.9L2025.8 1157.9L2022.6 1143.4L2020.8 1132.9L2017.8 1123.7L2014.5 1122.9L2011.8 1113L2009.5 1115.4L2006.6 1114.9L2003.3 1120.4L1999.5 1118.5L1997 1125.4L1993.4 1129.2L1990.8 1140.4L1987.8 1146L1985.8 1157.9L1983.9 1160L1980.8 1170.4L1978.4 1170.7L1975.8 1182.9L1973.6 1192.1L1970.8 1207.9L1969 1214.8L1967.1 1232.8L1965.7 1240.8L1963.3 1256.6L1959.7 1249.1L1957.1 1256.6L1954.3 1252.4L1950.8 1252.8L1947.9 1247.5L1944.6 1250.3L1942.4 1242.3L1939.6 1242.8L1937.7 1233.8L1934.6 1232.8L1931.5 1210.9L1929.6 1197.9L1927.5 1177.8L1925.8 1167.9L1923.3 1154.3L1919.6 1145.4L1916.5 1138.9L1912.1 1137.9L1909 1128.9L1905.9 1122.9L1902.2 1125L1899.6 1130.4L1897.7 1132.4L1894.6 1142.9L1891.2 1144.2L1888.4 1147.9L1885.8 1153.6L1883.4 1167.9L1881.3 1175.7L1878.4 1187.9L1875.9 1199.2L1874.6 1217.9L1870.9 1222.2L1868.4 1232.8L1865.6 1237.7L1863.4 1252.8L1861.6 1252.4L1858.4 1261.6L1856.1 1252.8L1853.4 1250.3L1850.4 1236.4L1848.4 1232.8L1845.6 1229.5L1843.4 1232.8L1840.4 1227.7L1838.4 1235.3L1836.4 1217L1834.7 1207.9L1832.9 1185.1L1830.9 1167.9L1829 1157.8L1825.9 1155.4L1823.4 1149.5L1820.9 1147.9L1818.6 1141.4L1815.9 1137.9L1812.9 1128.4L1811 1130.4L1807.4 1127.7L1804.7 1132.9L1802.2 1138.2L1799.7 1145.4L1796.9 1151.1L1794.7 1160.4L1792.4 1163.5L1789.7 1177.9L1788.1 1193.9L1786 1212.9L1784.4 1216.1L1782.2 1222.9L1779.3 1225.4L1777.2 1237.8L1774.2 1246.6L1772.2 1257.8L1769.7 1257.8L1767.2 1260.3L1764.8 1259L1762.2 1260.3L1759.3 1252.7L1757.3 1252.8L1754.4 1246.5L1752.3 1250.3L1749.9 1246.4L1747.3 1247.8L1745.2 1230.1L1742.3 1217.9L1739.9 1195.1L1738.5 1175.4L1736.6 1154.5L1734.8 1142.9L1732.1 1141.5L1729.8 1152.9L1727 1139.4L1724.8 1132.9L1722.6 1123.9L1719.8 1117.9L1716.8 1104.3L1714.8 1105.5L1712.9 1114.7L1709.8 1132.9L1707.9 1140.2L1704.8 1155.4L1701.6 1153.2L1699.8 1157.9L1696.7 1176.7L1693.6 1207.9L1691.7 1211.8L1689.8 1227.8L1688.2 1236L1686.1 1247.8L1683.6 1246.9L1681.1 1255.3L1679.2 1248.7L1676.1 1250.3L1673.4 1249.9L1671.1 1252.8L1668.9 1252.2L1666.1 1260.3L1664 1253.2L1661.1 1257.8L1658.5 1244.1L1656.1 1232.8L1654.2 1213.5L1651.1 1197.9L1648.6 1194.3L1644.9 1192.9L1643.5 1174.4L1641.1 1162.9L1639.2 1143.6L1637.4 1127.9L1634.6 1115.2L1632.4 1108L1629.5 1103.1L1627.4 1113L1625.3 1107.4L1622.4 1115.4L1619.9 1107.6L1616.1 1110.5L1614.2 1103.7L1611.1 1108L1607.4 1115.3L1604.9 1132.9L1602.5 1136.9L1599.9 1152.9L1596.8 1156.2L1594.9 1170.4L1592.1 1172.6L1589.9 1182.9L1588.1 1194L1584.9 1207.9L1582.2 1215.2L1579.9 1227.8L1576.6 1230.6L1573.7 1235.3L1570.3 1224.5L1567.4 1227.8L1564.4 1217.5L1561.2 1215.4L1557.7 1208.8L1554.9 1212.9L1551.7 1193.5L1548.7 1182.9L1545.3 1171.9L1542.4 1170.4L1540.2 1161.3L1537.4 1157.9L1535.5 1147.1L1532.5 1142.9L1529.4 1144.7L1527.5 1157.9L1524.4 1158.1L1522.5 1172.9L1520.2 1166.8L1517.5 1170.4L1514.8 1163L1512.5 1162.9L1510.3 1166.4L1507.5 1177.9L1504.6 1191.2L1502.5 1207.9L1501.3 1204.2L1498.7 1212.9L1496.3 1211L1493.3 1217.9L1491.1 1217.8L1488.3 1227.8L1484.6 1230L1482 1236.6L1479.5 1229.2L1477 1232.8L1474.5 1223.3L1470.8 1225.3L1468.3 1216.2L1464.5 1215.4L1461.7 1205.2L1458.3 1205.4L1455.4 1184.2L1453.3 1172.9L1450.3 1165.7L1448.3 1162.9L1445.3 1153.7L1442 1150.4L1439 1141.7L1435.8 1140.4L1433.2 1139.5L1429.6 1147.9L1426.7 1144.7L1424.6 1151.7L1422.4 1148.3L1419.1 1150.4L1417 1150.7L1415.8 1157.9L1413.4 1176.2L1410.8 1197.9L1408.5 1196L1405.8 1207.9L1402.3 1206.8L1399.6 1207.9L1397.2 1217.8L1394.6 1232.8L1392.1 1234.1L1389.6 1245.3L1387.6 1236L1384.6 1240.3L1382.3 1235.1L1379.6 1232.8L1376.2 1223.6L1373.4 1220.4L1370.6 1202L1367.1 1187.9L1363.4 1181.5L1360.9 1180.4L1357.9 1168.4L1354.6 1167.9L1351.7 1156.3L1348.4 1157.9L1345.9 1149.8L1342.1 1152.9L1338.9 1148L1335.9 1145.4L1332.6 1142.7L1329.6 1147.9L1326.5 1149L1324.7 1157.9L1322 1172.3L1318.4 1192.9L1315.5 1197.2L1313.4 1212.9L1310.5 1216.2L1308.4 1227.8L1305.4 1226.6L1303.4 1235.3L1300.8 1233.4L1297.2 1236.6L1293.7 1235.1L1290.9 1240.3L1288 1234.2L1285.9 1232.8L1284 1221.8L1280.9 1220.4L1279.1 1205.4L1275.9 1197.9L1272.9 1185.6L1271 1187.9L1269.1 1169L1266 1157.9L1263.4 1149.9L1261 1147.9L1258.3 1136.5L1254.7 1132.9L1251.1 1130.1L1248.5 1130.4L1245.8 1130.6L1242.2 1132.9L1239.5 1136.7L1237.2 1145.4L1235.4 1148.3L1232.2 1157.9L1228.5 1158.3L1226 1167.9L1222.3 1167.6L1219.7 1177.9L1216.8 1191L1214.8 1207.9L1213.3 1213.5L1211 1230.3L1209.1 1225.3L1206 1232.8L1203 1228.8L1199.8 1235.3L1196.7 1236.7L1193.5 1244.1L1190.5 1238.1L1188.5 1237.8L1185.4 1235.2L1183.5 1235.3L1181.1 1220.1L1178.5 1207.9L1174.8 1192.3L1172.3 1182.9L1169.6 1173.6L1166 1170.4L1162.5 1162.7L1159.8 1162.9L1157.3 1156.6L1153.6 1160.4L1150.5 1149.7L1147.3 1147.9L1144.4 1144.3L1142.3 1150.4L1139.9 1151.1L1137.3 1157.9L1134.9 1158.6L1132.3 1167.9L1129.9 1179.1L1126.1 1192.9L1122.8 1199L1119.8 1207.9L1116.1 1215.5L1113.6 1225.8L1110.5 1220.4L1107.3 1217.9L1104 1211.7L1101.1 1220.4L1097.3 1214.3L1094.9 1220.4L1091 1214.1L1088.6 1215.4L1086.1 1195.3L1082.4 1180.4L1079.6 1176.3L1076.1 1175.9L1072.7 1164.5L1069.9 1157.9L1066.2 1153L1063.6 1150.4L1060 1146.4L1057.4 1152.9L1054.5 1148.4L1051.1 1155.4L1048.3 1145L1044.9 1147.9L1043 1148.8L1039.9 1157.9L1037.1 1163.8L1034.9 1175.4L1030.7 1173.1L1027.4 1177.9L1023.2 1176.2L1019.9 1177.9L1016.1 1187.8L1012.4 1202.9L1008 1201.1L1004.9 1205.4L1001.2 1205.4L998.7 1207.9L995.4 1205L992.5 1211.6L989.4 1204.7L986.2 1205.4L983.3 1204.1L980 1206.6L976.6 1204.7L973.7 1209.1L971 1206.6L968.7 1207.9L966.5 1191.1L963.7 1177.9L961.5 1172.2L958.7 1170.4L956.3 1167.4L953.3 1175.4L950.7 1174.1L948.3 1177.9L944.6 1172.6L942 1177.9L939.1 1177L935.8 1180.4L933.1 1179.8L930.8 1182.9L928 1180.8L924.5 1187.9L921.6 1186.7L918.3 1197.9L915.3 1197.3L912 1207.9L908.7 1208.7L905.8 1217.9L902.4 1216L899.6 1217.9L897.4 1222.7L894.6 1230.3L891.3 1231.6L888.3 1235.3L885.3 1229.1L883.3 1232.8L881.4 1208.5L878.3 1187.9L876.5 1190.5L873.3 1197.9L869.6 1191.6L867.1 1200.4L864.9 1186.3L862.1 1182.9L860 1169L857.1 1157.9L854.7 1161L852.1 1170.4L849.7 1174.7L847.1 1182.9L845 1170.3L842.1 1165.4L840.3 1155.3L837.6 1157.9L835.1 1164.4L833.4 1177.9L831.4 1180.3L828.4 1192.9L825.3 1185.6L822.1 1190.4L819.7 1181.2L817.1 1185.4L814.3 1184.3L812.1 1192.9L808.8 1195.9L805.9 1207.9L803.2 1208.7L800.9 1215.4L797.2 1206.7L794.6 1207.9L792.1 1192.5L789.6 1182.9L786.7 1190.3L784.7 1202.9L782.8 1199L779.7 1204.1L777 1198.1L773.4 1197.9L771.5 1173.8L769.2 1157.9L766.9 1157.3L764.7 1162.9L762.2 1171.5L759.7 1185.4L757.8 1183.2L754.7 1187.9L751.9 1176.6L749.7 1172.9L748.4 1168.5L745.9 1167.9L742.9 1179.4L739.7 1192.9L737 1193.1L734.7 1207.9L732.3 1200.9L729.7 1197.9L727.4 1191.7L724.7 1192.9L723.5 1193.4L721 1200.4L717.9 1205.4L716 1212.9L713.9 1211.7L711 1217.9L707.7 1207.1L704.7 1207.9L702.4 1205L699.7 1209.1L696 1207.6L693.5 1210.4L690.5 1205.4L688.5 1205.4L684.7 1193.7L682.2 1192.9L679.3 1189.6L676 1190.4L673.2 1184.7L669.8 1187.9L666.5 1182.7L663.5 1185.4L659.9 1178.5L657.3 1180.4L654.1 1179.3L651 1187.9L648.6 1181.3L646 1185.4L643.2 1172.7L639.8 1172.9L637.7 1172.7L634.8 1182.9L632.7 1184.2L629.8 1196.6L626.9 1187.7L623.5 1187.9L620.5 1175.4L617.3 1175.4L615.1 1182.5L612.3 1197.9L610.1 1194.4L607.3 1202.9L605.1 1186.8L602.3 1182.9L599.7 1180.1L596.1 1182.9L593.3 1179.1L591.1 1185.4L589.3 1182.2L586.1 1182.9L583.3 1175.8L581.1 1177.9L579.1 1174.1L577.3 1180.4L574.8 1178.5L572.3 1185.4L569.8 1178.5L567.3 1180.4L565.5 1176L562.4 1175.4L559.8 1173.4L557.4 1182.9L554.8 1179.6L552.4 1187.9L549.5 1184.7L547.4 1190.4L543.6 1181.8L541.1 1182.9L538.1 1185.7L536.1 1192.9L532.7 1193.4L529.9 1205.4L528 1203.4L524.9 1207.9L522.4 1206.3L518.6 1215.4L515.9 1211.3L512.4 1217.9L509.1 1213.4L506.2 1219.1L503.4 1209.7L499.9 1210.4L496.2 1206.9L493.7 1212.9L491.6 1201.4L488.7 1202.9L485.5 1194L483.7 1187.9L480.5 1181.3L477.4 1182.9L475.3 1181.2L473.7 1190.4L471.3 1189L468.7 1190.4L465.7 1177.4L463.7 1170.4L461.2 1165.8L457.4 1175.4L455.2 1174.4L452.5 1187.9L450.5 1190.5L447.5 1197.9L445.5 1194.8L442.5 1195.4L439.5 1197.1L437.5 1202.9L435.6 1208L432.5 1217.9L430.1 1222.7L427.5 1232.8L425.1 1226.4L423.7 1230.3L420.6 1214.6L417.5 1212.9L415.6 1199.5L412.5 1197.9Z" fill="#f00" stroke="#f00"/>
<path d="M412.5 1165.7L414.5 1171.5L417.5 1169.4L421.2 1176.7L423.7 1181.9L426.2 1184L430 1176.9L432.8 1167.5L435 1146.9L437.5 1150.7L440 1149.4L442.3 1160.5L445 1161.9L447.1 1169.8L448.7 1174.4L450.9 1175.6L453.7 1169.4L455.8 1167.2L458.7 1159.4L461 1164.9L463.7 1156.9L466.1 1166.8L467.4 1174.4L469.4 1181.8L471.2 1179.4L473.1 1178L476.2 1171.9L478.7 1169.9L481.2 1165.7L483.9 1172.5L486.2 1171.9L488.8 1182.9L491.2 1184.4L493.8 1184.5L496.2 1181.9L499.4 1182.1L501.2 1176.9L503.9 1185L507.4 1181.9L510.8 1176.9L513.6 1169.4L515.9 1174.8L518.6 1168.2L521 1171.7L523.6 1165.7L526.6 1174.8L528.6 1174.4L531.7 1177L534.9 1171.9L537.4 1172.2L541.1 1169.4L544.7 1171.8L547.4 1171.9L550.2 1181.3L552.4 1179.4L554.7 1180.6L557.4 1176.9L559.5 1182.2L561.1 1174.4L563 1184.6L566.1 1181.9L569.3 1186.5L571.1 1186.9L573.2 1184.2L576.1 1179.4L579 1184.4L582.3 1179.4L584.9 1185.3L588.6 1181.9L591 1187.4L593.6 1181.9L596.6 1181.6L598.6 1169.4L601.6 1177.6L603.6 1174.4L606.1 1179.8L608.6 1181.9L611.5 1177L613.6 1161.9L616 1157.4L618.6 1150.7L621 1159.8L623.5 1161.9L625.4 1171.4L628.5 1171.9L631.1 1176.2L633.5 1166.9L636.2 1166.3L638.5 1151.9L641.3 1157.4L643.5 1156.9L646 1166L648.5 1164.4L650.8 1164.5L653.5 1161.9L657 1161.3L659.8 1155.7L663 1162.4L666 1155.7L668.5 1162.9L672.3 1159.4L674.1 1165L677.3 1160.7L679.1 1161L682.2 1153.2L684.7 1158.8L688.5 1158.2L692.3 1169.9L694.7 1171.9L697.5 1174.2L701 1173.1L702.9 1178.5L706 1179.4L708.3 1189L711 1184.4L713.3 1194.7L716 1196.9L718.5 1191.9L721 1181.9L722.8 1187L726 1184.4L728.1 1196.8L731 1196.9L732.8 1200.6L735.9 1194.4L739.1 1187.3L740.9 1174.4L744 1178.8L745.9 1169.4L748.2 1181.7L750.9 1179.4L753.2 1188.1L755.9 1186.9L758.1 1181.7L760.9 1169.4L763.3 1166.9L765.9 1154.4L768 1156.8L770.9 1151.9L773.6 1156.6L775.9 1156.9L778.3 1169.5L780.9 1171.9L783.7 1170.4L785.9 1156.9L787.7 1155.2L790.9 1144.4L793.1 1151L795.9 1149.4L798.7 1166.3L800.9 1174.4L802.7 1178.9L805.9 1174.4L807.9 1170.7L810.9 1164.4L813.6 1166.4L815.9 1155.7L817.9 1168.1L820.9 1166.9L823.7 1176.5L827.1 1179.4L830.1 1171.6L832.1 1159.4L833.9 1153L837.1 1144.4L840.2 1153.6L842.1 1149.4L844.5 1163.4L847.1 1171.9L849.9 1169.4L852.1 1161.9L855.2 1156.8L857.1 1141.9L859.8 1147.9L862.1 1149.4L864.6 1160L867.1 1166.9L870.5 1163.1L873.3 1154.4L876.4 1152.2L878.3 1136.9L881.2 1143.7L883.3 1141.9L885.8 1153.4L887.1 1156.9L889.6 1173.9L893.3 1176.9L896.5 1174.9L898.3 1159.4L900.9 1165.1L903.3 1161.9L905.2 1179.2L908.3 1181.9L911.9 1190.4L914.5 1189.4L917 1188.7L920.8 1184.4L924.6 1189.2L927 1181.9L930.3 1186.5L933.3 1186.9L936.5 1193.5L939.5 1189.4L942.1 1195.5L945.8 1189.4L948 1191.8L950.8 1181.9L951.8 1180.3L952.5 1174.4L955.3 1176.9L958.7 1166.9L961.2 1176L965 1174.4L967.8 1172L971.2 1166.9L974.3 1166.7L977.5 1161.9L980.1 1159.9L983.7 1151.9L987 1164L990 1161.9L992.4 1173.1L996.2 1171.9L998 1175.5L1001.2 1174.4L1003.8 1173.8L1006.2 1161.9L1009 1170.9L1011.2 1176.9L1013.7 1182L1016.2 1184.4L1019.9 1186.5L1022.4 1181.9L1024.9 1187.5L1028.7 1184.4L1031.5 1188.7L1034.9 1186.9L1037.5 1188.9L1041.2 1181.9L1043.9 1185.7L1047.4 1176.9L1051.2 1180.8L1053.6 1176.9L1057 1176.3L1059.9 1161.9L1062.3 1164.6L1066.1 1156.9L1069.9 1159.2L1072.4 1154.4L1074.8 1157.3L1078.6 1146.9L1081.9 1145.5L1084.9 1141.9L1086.4 1145.6L1088.6 1139.4L1091.8 1144.1L1094.9 1144.4L1098.5 1141.4L1101.1 1134.4L1104.2 1139.8L1107.3 1136.9L1110.7 1147.1L1113.6 1146.9L1116.9 1151.6L1119.8 1148.2L1123.3 1149.7L1126.1 1148.2L1129.3 1156.5L1132.3 1161.9L1135.1 1166.4L1137.3 1166.9L1139.1 1170.9L1142.3 1160.7L1145.5 1169.3L1147.3 1166.9L1149.1 1176.6L1152.3 1174.4L1155.5 1176.2L1158.6 1169.4L1160.6 1174.1L1163.5 1171.9L1166.6 1179.9L1169.8 1176.9L1173.5 1177.5L1176 1171.9L1179.1 1169.6L1181.8 1161.9L1184.5 1168.4L1187.3 1171.9L1190 1174.6L1193.5 1169.4L1196.1 1175.5L1199.8 1168.2L1202.9 1176.7L1206 1171.9L1208.7 1178.2L1212.3 1181.9L1215.7 1188.8L1218.5 1181.9L1221.2 1185.8L1224.7 1184.4L1227.9 1190.6L1231 1189.4L1233.8 1190.2L1237.2 1184.4L1241 1185.4L1243.5 1179.4L1246.7 1177.8L1249.7 1171.9L1253.3 1173.7L1256 1166.9L1258.6 1170.2L1262.2 1164.4L1265.9 1166.9L1268.5 1156.9L1271.5 1155.3L1274.7 1150.7L1278.4 1155L1280.9 1154.4L1284.2 1159.3L1287.2 1154.4L1290 1153.3L1293.4 1149.4L1296.2 1155.1L1299.7 1148.2L1302.4 1155.6L1305.9 1149.4L1309.3 1157.6L1312.2 1151.9L1315.2 1159.2L1318.4 1156.9L1321.5 1163.4L1324.7 1159.4L1327.2 1157.8L1329.6 1149.4L1332.5 1154L1334.6 1148.2L1337.6 1159.6L1339.6 1159.4L1341.9 1166L1344.6 1166.9L1347.1 1171.9L1350.9 1171.9L1354.5 1176.7L1357.1 1179.4L1359.8 1183.2L1363.4 1184.4L1366.4 1189.6L1369.6 1184.4L1372.3 1185.5L1375.9 1181.9L1379.4 1188L1382.1 1189.4L1385 1195.4L1388.3 1191.9L1391.2 1187.7L1393.3 1174.4L1395.7 1173.8L1397.1 1170.7L1400.2 1180.6L1402.1 1179.4L1404.5 1185.3L1407.1 1186.9L1409.1 1182.7L1412.1 1171.9L1414.6 1172.7L1417.1 1161.9L1419.6 1172.6L1422.1 1171.9L1425.1 1180.6L1428.3 1176.9L1431.3 1178.3L1434.6 1171.9L1438.5 1174.5L1442 1170.7L1445.5 1174.7L1449.5 1169.4L1453.2 1171.2L1457 1169.4L1461 1175.6L1464.5 1169.4L1467.8 1175L1472 1171.9L1476.1 1175.7L1479.5 1176.9L1483.9 1175.8L1487 1171.9L1490.4 1174L1493.3 1169.4L1495.9 1180.3L1498.7 1186.9L1501.5 1185.7L1505 1181.9L1507.7 1180.1L1511.2 1164.4L1514.2 1170.8L1517.5 1174.4L1519.3 1187.5L1522.5 1191.9L1525.3 1186.4L1527.5 1176.9L1530.3 1169.6L1532.5 1155.7L1534.7 1171L1537.4 1171.9L1540 1176.7L1543.7 1179.4L1547 1182.7L1549.9 1179.4L1553.7 1184.8L1556.2 1181.9L1559.4 1182.2L1561.2 1175.6L1564 1185.1L1567.4 1184.4L1571.2 1191.1L1573.7 1191.9L1576.9 1188.7L1579.9 1176.9L1583.4 1172.2L1586.2 1163.2L1588.1 1169.5L1591.1 1169.4L1593.9 1179.2L1596.1 1179.4L1599.2 1178L1601.1 1166.9L1603 1158.7L1606.1 1146.9L1609.6 1151.1L1612.4 1141.9L1615.5 1152.2L1617.4 1151.9L1620.3 1154.8L1622.4 1154.4L1624.5 1153.5L1627.4 1139.4L1629.2 1133.5L1632.4 1121.9L1634.2 1130.9L1637.4 1129.4L1639.9 1139L1642.4 1144.4L1645.1 1147.1L1647.3 1136.9L1650.4 1140.9L1652.3 1131.9L1655.7 1136.3L1658.6 1131.9L1661.8 1150.1L1664.8 1156.9L1668.9 1154.4L1672.3 1141.9L1676.1 1155.7L1678.6 1166.9L1681.8 1178.6L1684.8 1179.4L1687.6 1180.5L1689.8 1171.9L1691.1 1171.3L1693.6 1159.4L1695.4 1169.6L1698.6 1171.9L1700.5 1183.8L1703.5 1186.9L1706.5 1184.3L1708.5 1179.4L1711.4 1176.3L1713.5 1161.9L1717.2 1161.2L1719.8 1158.2L1723.3 1166.8L1726 1171.9L1728.1 1172.2L1731 1161.9L1734.1 1161L1737.3 1146.9L1740.4 1155.5L1742.3 1161.9L1745.9 1171.1L1748.5 1171.9L1750.8 1169.7L1753.5 1164.4L1756.1 1164.1L1758.5 1159.4L1761.1 1172.4L1763.5 1176.9L1765.3 1185.1L1768.5 1181.9L1772 1183.5L1774.7 1181.9L1777.5 1188.1L1781 1184.4L1784 1191.5L1787.2 1186.9L1790.1 1191.7L1793.5 1184.4L1796.9 1185.1L1799.7 1181.9L1802.7 1185.6L1806 1178.1L1809 1182.9L1812.2 1179.4L1816 1182.9L1819.7 1179.4L1822.8 1178L1825.9 1166.9L1828.3 1167.8L1830.9 1158.2L1833.6 1170.6L1835.9 1171.9L1838.8 1182.4L1840.9 1179.4L1842.7 1177.2L1845.9 1169.4L1849.5 1174L1852.2 1174.4L1854.9 1185.4L1858.4 1186.9L1862 1187.5L1864.7 1176.9L1867.1 1181.3L1870.9 1179.4L1874.6 1188.3L1877.1 1184.4L1880.8 1182.3L1883.4 1174.4L1885.3 1173.4L1888.4 1169.4L1891.3 1176.6L1894.6 1176.9L1898.8 1178.4L1902.1 1169.4L1906.4 1178.1L1909.6 1174.4L1914 1173.9L1917.1 1166.9L1921.1 1172.6L1924.6 1169.4L1928.4 1172.7L1930.8 1164.4L1933.7 1170.1L1937.1 1161.9L1940 1162.9L1943.3 1154.4L1946.4 1154.1L1949.6 1148.2L1952.6 1153.9L1955.8 1151.9L1958.9 1167.8L1962.1 1171.9L1965.8 1173.6L1968.3 1164.4L1970.7 1175.5L1973.3 1171.9L1976.3 1182.3L1978.3 1181.9L1981.6 1189.7L1984.5 1184.4L1987.5 1186.9L1990.8 1179.4L1994.4 1183.1L1997 1174.4L2000.1 1174.5L2003.3 1166.9L2006.6 1165.4L2009.5 1159.4L2012.7 1159.5L2015.8 1149.4L2019 1147.6L2022 1139.4L2024.5 1139.4L2028.3 1129.4L2031.6 1133.4L2034.5 1123.2L2035.8 1127.2L2035.9 1123.2L2038.7 1130.4L2042.2 1125.7L2045 1128.3L2048.4 1121.9L2050.8 1122.2L2053.4 1115.7L2056.6 1129.7L2058.4 1134.4L2061.3 1149.1L2063.4 1149.4L2065.7 1153.2L2068.4 1141.9L2070.9 1139.8L2072.1 1134.4L2074.8 1151.8L2077.1 1161.9L2079 1175L2082.1 1181.9L2085.2 1184.4L2087.1 1179.4L2090.1 1178.7L2092.1 1169.4L2094.8 1175.6L2097.1 1169.4L2099.9 1185.4L2102.1 1191.9L2104.1 1199.8L2107.1 1201.9L2109.5 1194.1L2112.1 1181.9L2115.1 1180L2117.1 1164.4L2119.5 1172.4L2122.1 1174.4L2123.9 1184.4L2127.1 1191.9L2128.9 1197.2L2130.1 1196.9L2130.1 1207.9L2127.9 1208.5L2127.1 1217.9L2124.1 1208L2122.1 1207.9L2119.7 1198.8L2117.1 1197.9L2114.2 1206.5L2112.1 1217.9L2109.4 1223.7L2107.1 1235.3L2104 1225.8L2102.1 1227.8L2100.1 1214.5L2097.1 1207.9L2094.5 1197.5L2092.1 1197.9L2090.1 1200.2L2087.1 1207.9L2085.2 1202.7L2082.1 1207.9L2079.3 1198.2L2077.1 1197.9L2075.1 1179.9L2072.1 1167.9L2069.8 1164.1L2068.4 1167.9L2066.1 1167.1L2063.4 1175.4L2061 1163.6L2058.4 1162.9L2056.1 1143.9L2053.4 1135.4L2051.5 1134.3L2048.4 1137.9L2045.2 1138.4L2042.2 1141.7L2038.4 1137.8L2035.9 1140.4L2035.4 1136.2L2034.5 1142.9L2031.4 1142.7L2028.3 1150.4L2024.8 1152.2L2022 1160.4L2018.6 1164.9L2015.8 1172.9L2012 1170.7L2009.5 1180.4L2007 1179.9L2003.3 1187.9L1999.7 1189.1L1997 1192.9L1994.2 1192.6L1990.8 1195.4L1987.9 1193.7L1984.5 1205.4L1981.6 1199.2L1978.3 1200.4L1975.9 1195.2L1973.3 1192.9L1971.5 1194.3L1968.3 1205.4L1965.6 1198.7L1962.1 1205.4L1958.6 1194.8L1955.8 1192.9L1953.1 1183.9L1949.6 1187.9L1946.5 1187.5L1943.3 1190.4L1940 1183.2L1937.1 1185.4L1933.3 1177.1L1930.8 1182.9L1927.8 1179.2L1924.6 1182.9L1920.5 1179.2L1917.1 1185.4L1913.4 1180.9L1909.6 1187.9L1905.9 1184.9L1902.1 1190.4L1898.2 1191.1L1894.6 1195.4L1892 1191.5L1888.4 1192.9L1886.5 1189.2L1883.4 1200.4L1879.6 1200.1L1877.1 1210.4L1874.5 1196.8L1870.9 1197.9L1868.3 1195.2L1864.7 1200.4L1861 1196.2L1858.4 1205.4L1854.7 1196.4L1852.2 1197.9L1848.7 1193.4L1845.9 1192.9L1844.1 1190.9L1840.9 1197.9L1837.9 1189.6L1835.9 1192.9L1832.9 1180.2L1830.9 1177.9L1827.8 1174.7L1825.9 1182.9L1822.4 1182.4L1819.7 1190.4L1816.3 1185.6L1812.2 1187.9L1809.7 1186.2L1806 1192.9L1803 1192.5L1799.7 1202.9L1796 1199.4L1793.5 1210.4L1790.5 1204.4L1787.2 1212.9L1783.5 1204.4L1781 1207.9L1778.4 1206.5L1774.7 1210.4L1771.5 1207.9L1768.5 1217.9L1766.6 1210.2L1763.5 1207.9L1760.5 1196L1758.5 1192.9L1755.9 1186.6L1753.5 1192.9L1750.8 1191.6L1748.5 1205.4L1746 1190.8L1742.3 1190.4L1739.5 1178.5L1737.3 1175.4L1734.3 1187L1731 1201.6L1729 1194.7L1726 1197.9L1722.4 1184.6L1719.8 1182.9L1717 1183L1713.5 1192.9L1711.6 1197.8L1708.5 1207.9L1705.8 1214.9L1703.5 1224.1L1700.7 1212.9L1698.6 1207.9L1695.6 1196.9L1693.6 1197.9L1691.3 1201.9L1689.8 1207.9L1687.4 1207.1L1684.8 1217.9L1681.3 1210.2L1678.6 1205.4L1675 1196.5L1672.3 1190.4L1668 1191.2L1664.8 1195.4L1661.7 1187.8L1658.6 1182.9L1655.5 1170.7L1652.3 1167.9L1649.5 1170L1647.3 1175.4L1644.7 1170.1L1642.4 1172.9L1639.2 1163L1637.4 1157.9L1634.3 1150.3L1632.4 1152.9L1629.6 1151.3L1627.4 1162.9L1624.7 1165.5L1622.4 1180.4L1620.3 1174.1L1617.4 1170.4L1614.6 1160.6L1612.4 1157.9L1609.5 1158.7L1606.1 1167.9L1604.1 1176.1L1601.1 1187.9L1598.2 1186.6L1596.1 1199.1L1593.8 1186.6L1591.1 1187.9L1588.8 1183.1L1586.2 1182.9L1583.5 1191.5L1579.9 1202.9L1576.9 1202.3L1573.7 1207.9L1570.4 1200.1L1567.4 1200.4L1564.2 1192.4L1561.2 1187.9L1559.2 1191.9L1556.2 1202.9L1553.7 1201.2L1549.9 1210.4L1546.6 1209.3L1543.7 1215.4L1540.4 1206.9L1537.4 1202.9L1535.6 1194.7L1532.5 1197.9L1530.1 1198.3L1527.5 1207.9L1524.9 1215.1L1522.5 1226.6L1519.9 1212.7L1517.5 1205.4L1513.8 1193L1511.2 1187.9L1507.5 1194.3L1505 1207.9L1501.5 1205.1L1498.7 1207.9L1495.4 1190.9L1493.3 1185.4L1490.5 1180.9L1487 1187.9L1483.1 1183.8L1479.5 1190.4L1475.9 1185.3L1472 1182.9L1467.7 1181.1L1464.5 1185.4L1461.2 1184.2L1457 1187.9L1453.9 1183.8L1449.5 1185.4L1446.3 1181.4L1442 1180.4L1437.8 1177.9L1434.6 1182.9L1431.8 1185.1L1428.3 1195.4L1424.8 1187.8L1422.1 1187.9L1419.1 1179L1417.1 1177.9L1414.3 1182.4L1412.1 1197.9L1409.1 1198.9L1407.1 1202.9L1404.9 1198.1L1402.1 1202.9L1399.7 1188.3L1397.1 1187.9L1395.6 1192.4L1393.3 1207.9L1390.3 1207.6L1388.3 1212.9L1385.6 1212.6L1382.1 1217.9L1378.5 1211.6L1375.9 1207.9L1372.2 1204.8L1369.6 1215.4L1367.2 1212.7L1363.4 1219.1L1360.7 1211.5L1357.1 1215.4L1354.3 1210L1350.9 1212.9L1347.6 1215.7L1344.6 1221.6L1341.5 1217.7L1339.6 1217.9L1337.8 1209.7L1334.6 1210.4L1332.7 1204.4L1329.6 1200.4L1327.4 1193.6L1324.7 1200.4L1321.2 1193.4L1318.4 1190.4L1315 1181.3L1312.2 1180.4L1309.3 1177.3L1305.9 1177.9L1302.2 1171.2L1299.7 1175.4L1296.1 1172.3L1293.4 1172.9L1289.8 1165.5L1287.2 1170.4L1283.6 1165.2L1280.9 1165.4L1278.4 1162.7L1274.7 1167.9L1271.4 1170.8L1268.5 1180.4L1264.7 1178.3L1262.2 1182.9L1258.9 1175.9L1256 1180.4L1252.7 1179.2L1249.7 1187.9L1246.1 1188L1243.5 1190.4L1240.7 1189L1237.2 1192.9L1233.8 1192.7L1231 1199.1L1227.9 1193.5L1224.7 1195.4L1221.9 1193.2L1218.5 1197.9L1215.8 1201.9L1212.3 1209.1L1208.6 1204L1206 1210.4L1202.6 1202.5L1199.8 1200.4L1197 1199.4L1193.5 1207.9L1190.9 1205.3L1187.3 1205.4L1185 1197.9L1181.8 1197.9L1179.3 1194.2L1176 1202.9L1173.6 1194.8L1169.8 1197.9L1167.2 1187.3L1163.5 1182.9L1161.7 1178.5L1158.6 1182.9L1155.8 1186.5L1152.3 1197.9L1150.3 1192L1147.3 1190.4L1145.1 1185.1L1142.3 1182.9L1139.5 1186.3L1137.3 1199.1L1134.9 1188.3L1132.3 1187.9L1129.3 1181.3L1126.1 1182.9L1123.3 1183L1119.8 1190.4L1116.7 1181.8L1113.6 1182.9L1110.9 1178.6L1107.3 1180.4L1104.6 1171.4L1101.1 1172.9L1097.6 1169.6L1094.9 1177.9L1092 1162.4L1088.6 1160.4L1087.4 1155.7L1084.9 1157.9L1081.3 1161.1L1078.6 1167.9L1075.2 1167.1L1072.4 1170.4L1069.9 1165.9L1066.1 1172.9L1062.9 1174.1L1059.9 1182.9L1057.2 1186.3L1053.6 1194.1L1050.4 1192.1L1047.4 1192.9L1043.9 1194.9L1041.2 1207.9L1038.6 1204.5L1034.9 1212.9L1032.2 1206.4L1028.7 1207.9L1026.2 1199.8L1022.4 1205.4L1019.1 1203.8L1016.2 1212.9L1014.2 1200.6L1011.2 1197.9L1009.3 1187.3L1006.2 1187.9L1004 1187.1L1001.2 1192.9L999.2 1189.1L996.2 1187.9L993.4 1179.5L990 1180.4L986.6 1174.5L983.7 1175.4L980.8 1175.4L977.5 1180.4L973.8 1184.3L971.2 1190.4L968.6 1184.7L965 1187.9L961.4 1182.1L958.7 1182.9L955.8 1183.5L952.5 1192.9L951.1 1190.1L950.8 1200.4L948.2 1199.3L945.8 1205.4L942.5 1200.4L939.5 1207.9L936.9 1206L933.3 1212.9L929.7 1213.4L927 1217.9L923.3 1215.2L920.8 1220.4L917.5 1222.4L914.5 1230.3L911.1 1221.8L908.3 1217.9L906.3 1207L903.3 1200.4L901 1192.1L898.3 1197.9L895.4 1198.1L893.3 1210.4L890 1204.3L887.1 1212.9L885.3 1190.3L883.3 1177.9L880.7 1172.7L878.3 1170.4L876.1 1172.9L873.3 1190.4L870.1 1189.3L867.1 1192.9L865.1 1183L862.1 1177.9L859 1164.3L857.1 1162.9L853.9 1172.1L852.1 1190.4L849.4 1189.7L847.1 1195.4L844.9 1187.2L842.1 1182.9L840 1172.5L837.1 1172.9L834.6 1179.9L832.1 1197.9L829.7 1197.9L827.1 1207.9L823.8 1197.6L820.9 1192.9L818.6 1181.1L815.9 1177.9L813.2 1173.1L810.9 1182.9L807.8 1185.9L805.9 1192.9L804 1195.2L800.9 1200.4L798.1 1190L795.9 1182.9L793.9 1172.5L790.9 1175.4L788.5 1181L785.9 1192.9L783 1190.5L780.9 1201.6L778.6 1196.6L775.9 1197.9L772.9 1182.3L770.9 1177.9L768.5 1177.3L765.9 1182.9L763 1189.4L760.9 1205.4L758.4 1204.3L755.9 1207.9L753.9 1201.2L750.9 1202.9L748.1 1195L745.9 1190.4L744 1190.8L740.9 1205.4L738.8 1205.4L735.9 1217.9L733.1 1217.3L731 1221.6L728.9 1210.9L726 1202.9L722.9 1197L721 1205.4L718 1206.4L716 1212.9L713.7 1208.5L711 1212.9L708.8 1201.8L706 1205.4L702.9 1200.4L701 1200.4L698.2 1198.4L694.7 1202.9L692.1 1193L688.5 1197.9L686 1186.8L682.2 1187.9L680.1 1183.4L677.3 1187.9L674.5 1185.1L672.3 1186.6L668.7 1181.1L666 1182.9L663 1179.2L659.8 1177.9L656.8 1171.5L653.5 1177.9L651.6 1174.2L648.5 1180.4L646.2 1171.4L643.5 1170.4L640.5 1164.7L638.5 1170.4L636.1 1177.7L633.5 1187.9L631.1 1185.8L628.5 1192.9L626.7 1180.8L623.5 1182.9L621.7 1175.8L618.6 1172.9L616.1 1183.2L613.6 1197.9L610.7 1198.8L608.6 1202.9L605.6 1200.3L603.6 1200.4L601.1 1191.9L598.6 1195.4L595.6 1200.6L593.6 1212.9L591.4 1217.1L588.6 1224.1L585.5 1215.3L582.3 1210.4L578.7 1202.5L576.1 1209.1L573.4 1207.7L571.1 1209.1L568.7 1200.1L566.1 1205.4L564.3 1196.4L561.1 1192.9L558.8 1192.6L557.4 1199.1L554.7 1190.4L552.4 1195.4L549.8 1189L547.4 1187.9L544.2 1177.7L541.1 1175.4L538.4 1176.1L534.9 1182.9L531.5 1185.5L528.6 1192.9L525.9 1193L523.6 1195.4L521.8 1195.2L518.6 1202.9L516.7 1203.8L513.6 1207.9L510.7 1204.5L507.4 1207.9L504.4 1199.4L501.2 1205.4L498.1 1200.4L496.2 1210.4L493.2 1211.4L491.2 1221.6L489.3 1211.4L486.2 1205.4L483.1 1195.5L481.2 1192.9L479.3 1191.3L476.2 1192.9L473.7 1199.3L471.2 1207.9L469.9 1204.8L467.4 1205.4L465 1187.9L463.7 1177.9L461.2 1180.3L458.7 1185.4L456.7 1181.6L453.7 1190.4L450.8 1193.8L448.7 1200.4L447.1 1196.2L445 1197.9L442.8 1188.1L440 1190.4L438.1 1187.4L435 1187.9L432 1191.4L430 1202.9L426.7 1201.6L423.7 1210.4L420 1199.9L417.5 1197.9L415.5 1187L412.5 1182.9Z" fill="#00f" stroke="#00f"/>
</g>
<rect x="1155.6" y="42" width="972" height="77" fill="#fff" stroke="none"/>
<path d="M1153.8 42H2129.6" stroke="#999" stroke-width="5" fill="none"/>
<path d="M2127.3 42V119" stroke="#8c8c8c" stroke-width="4.6" fill="none"/>
<path d="M1155.6 40V120.4" stroke="#222" stroke-width="3.6" fill="none"/>
<path d="M1153.8 119H2129.6" stroke="#3a3a3a" stroke-width="3.2" fill="none"/>
<path d="M1166 81.3H1283" stroke="#f00" stroke-width="7.6" fill="none"/>
<path d="M1643.7 81.3H1762" stroke="#00f" stroke-width="7.6" fill="none"/>
<text transform="translate(1290.5 101) scale(1.034 1.0)" font-size="51" text-anchor="start" fill="#000" font-family="Liberation Sans, Arial, Helvetica, sans-serif" font-weight="bold">w/o Detuning</text>
<text transform="translate(1769.5 101) scale(1.03 1.0)" font-size="51" text-anchor="start" fill="#000" font-family="Liberation Sans, Arial, Helvetica, sans-serif" font-weight="bold">with Detuning</text>
<text transform="translate(412.6 381.4) scale(1.0 1.0)" font-size="58.5" text-anchor="middle" fill="#222" font-family="Liberation Sans, Arial, Helvetica, sans-serif" font-weight="bold" letter-spacing="1.2" stroke="#fff" stroke-width="0.8" stroke-linejoin="round">0</text>
<text transform="translate(698.3 381.4) scale(1.0 1.0)" font-size="58.5" text-anchor="middle" fill="#222" font-family="Liberation Sans, Arial, Helvetica, sans-serif" font-weight="bold" letter-spacing="1.2" stroke="#fff" stroke-width="0.8" stroke-linejoin="round">100</text>
<text transform="translate(983.9 381.4) scale(1.0 1.0)" font-size="58.5" text-anchor="middle" fill="#222" font-family="Liberation Sans, Arial, Helvetica, sans-serif" font-weight="bold" letter-spacing="1.2" stroke="#fff" stroke-width="0.8" stroke-linejoin="round">200</text>
<text transform="translate(1269.6 381.4) scale(1.0 1.0)" font-size="58.5" text-anchor="middle" fill="#222" font-family="Liberation Sans, Arial, Helvetica, sans-serif" font-weight="bold" letter-spacing="1.2" stroke="#fff" stroke-width="0.8" stroke-linejoin="round">300</text>
<text transform="translate(1555.3 381.4) scale(1.0 1.0)" font-size="58.5" text-anchor="middle" fill="#222" font-family="Liberation Sans, Arial, Helvetica, sans-serif" font-weight="bold" letter-spacing="1.2" stroke="#fff" stroke-width="0.8" stroke-linejoin="round">400</text>
<text transform="translate(1840.9 381.4) scale(1.0 1.0)" font-size="58.5" text-anchor="middle" fill="#222" font-family="Liberation Sans, Arial, Helvetica, sans-serif" font-weight="bold" letter-spacing="1.2" stroke="#fff" stroke-width="0.8" stroke-linejoin="round">500</text>
<text transform="translate(2126.6 381.4) scale(1.0 1.0)" font-size="58.5" text-anchor="middle" fill="#222" font-family="Liberation Sans, Arial, Helvetica, sans-serif" font-weight="bold" letter-spacing="1.2" stroke="#fff" stroke-width="0.8" stroke-linejoin="round">600</text>
<text transform="translate(412.6 701.4) scale(1.0 1.0)" font-size="58.5" text-anchor="middle" fill="#222" font-family="Liberation Sans, Arial, Helvetica, sans-serif" font-weight="bold" letter-spacing="1.2" stroke="#fff" stroke-width="0.8" stroke-linejoin="round">0</text>
<text transform="translate(698.3 701.4) scale(1.0 1.0)" font-size="58.5" text-anchor="middle" fill="#222" font-family="Liberation Sans, Arial, Helvetica, sans-serif" font-weight="bold" letter-spacing="1.2" stroke="#fff" stroke-width="0.8" stroke-linejoin="round">100</text>
<text transform="translate(983.9 701.4) scale(1.0 1.0)" font-size="58.5" text-anchor="middle" fill="#222" font-family="Liberation Sans, Arial, Helvetica, sans-serif" font-weight="bold" letter-spacing="1.2" stroke="#fff" stroke-width="0.8" stroke-linejoin="round">200</text>
<text transform="translate(1269.6 701.4) scale(1.0 1.0)" font-size="58.5" text-anchor="middle" fill="#222" font-family="Liberation Sans, Arial, Helvetica, sans-serif" font-weight="bold" letter-spacing="1.2" stroke="#fff" stroke-width="0.8" stroke-linejoin="round">300</text>
<text transform="translate(1555.3 701.4) scale(1.0 1.0)" font-size="58.5" text-anchor="middle" fill="#222" font-family="Liberation Sans, Arial, Helvetica, sans-serif" font-weight="bold" letter-spacing="1.2" stroke="#fff" stroke-width="0.8" stroke-linejoin="round">400</text>
<text transform="translate(1840.9 701.4) scale(1.0 1.0)" font-size="58.5" text-anchor="middle" fill="#222" font-family="Liberation Sans, Arial, Helvetica, sans-serif" font-weight="bold" letter-spacing="1.2" stroke="#fff" stroke-width="0.8" stroke-linejoin="round">500</text>
<text transform="translate(2126.6 701.4) scale(1.0 1.0)" font-size="58.5" text-anchor="middle" fill="#222" font-family="Liberation Sans, Arial, Helvetica, sans-serif" font-weight="bold" letter-spacing="1.2" stroke="#fff" stroke-width="0.8" stroke-linejoin="round">600</text>
<text transform="translate(412.6 1022.1) scale(1.0 1.0)" font-size="58.5" text-anchor="middle" fill="#222" font-family="Liberation Sans, Arial, Helvetica, sans-serif" font-weight="bold" letter-spacing="1.2" stroke="#fff" stroke-width="0.8" stroke-linejoin="round">0</text>
<text transform="translate(698.3 1022.1) scale(1.0 1.0)" font-size="58.5" text-anchor="middle" fill="#222" font-family="Liberation Sans, Arial, Helvetica, sans-serif" font-weight="bold" letter-spacing="1.2" stroke="#fff" stroke-width="0.8" stroke-linejoin="round">100</text>
<text transform="translate(983.9 1022.1) scale(1.0 1.0)" font-size="58.5" text-anchor="middle" fill="#222" font-family="Liberation Sans, Arial, Helvetica, sans-serif" font-weight="bold" letter-spacing="1.2" stroke="#fff" stroke-width="0.8" stroke-linejoin="round">200</text>
<text transform="translate(1269.6 1022.1) scale(1.0 1.0)" font-size="58.5" text-anchor="middle" fill="#222" font-family="Liberation Sans, Arial, Helvetica, sans-serif" font-weight="bold" letter-spacing="1.2" stroke="#fff" stroke-width="0.8" stroke-linejoin="round">300</text>
<text transform="translate(1555.3 1022.1) scale(1.0 1.0)" font-size="58.5" text-anchor="middle" fill="#222" font-family="Liberation Sans, Arial, Helvetica, sans-serif" font-weight="bold" letter-spacing="1.2" stroke="#fff" stroke-width="0.8" stroke-linejoin="round">400</text>
<text transform="translate(1840.9 1022.1) scale(1.0 1.0)" font-size="58.5" text-anchor="middle" fill="#222" font-family="Liberation Sans, Arial, Helvetica, sans-serif" font-weight="bold" letter-spacing="1.2" stroke="#fff" stroke-width="0.8" stroke-linejoin="round">500</text>
<text transform="translate(2126.6 1022.1) scale(1.0 1.0)" font-size="58.5" text-anchor="middle" fill="#222" font-family="Liberation Sans, Arial, Helvetica, sans-serif" font-weight="bold" letter-spacing="1.2" stroke="#fff" stroke-width="0.8" stroke-linejoin="round">600</text>
<text transform="translate(412.6 1340.4) scale(1.0 1.0)" font-size="58.5" text-anchor="middle" fill="#222" font-family="Liberation Sans, Arial, Helvetica, sans-serif" font-weight="bold" letter-spacing="1.2" stroke="#fff" stroke-width="0.8" stroke-linejoin="round">0</text>
<text transform="translate(698.3 1340.4) scale(1.0 1.0)" font-size="58.5" text-anchor="middle" fill="#222" font-family="Liberation Sans, Arial, Helvetica, sans-serif" font-weight="bold" letter-spacing="1.2" stroke="#fff" stroke-width="0.8" stroke-linejoin="round">100</text>
<text transform="translate(983.9 1340.4) scale(1.0 1.0)" font-size="58.5" text-anchor="middle" fill="#222" font-family="Liberation Sans, Arial, Helvetica, sans-serif" font-weight="bold" letter-spacing="1.2" stroke="#fff" stroke-width="0.8" stroke-linejoin="round">200</text>
<text transform="translate(1269.6 1340.4) scale(1.0 1.0)" font-size="58.5" text-anchor="middle" fill="#222" font-family="Liberation Sans, Arial, Helvetica, sans-serif" font-weight="bold" letter-spacing="1.2" stroke="#fff" stroke-width="0.8" stroke-linejoin="round">300</text>
<text transform="translate(1555.3 1340.4) scale(1.0 1.0)" font-size="58.5" text-anchor="middle" fill="#222" font-family="Liberation Sans, Arial, Helvetica, sans-serif" font-weight="bold" letter-spacing="1.2" stroke="#fff" stroke-width="0.8" stroke-linejoin="round">400</text>
<text transform="translate(1840.9 1340.4) scale(1.0 1.0)" font-size="58.5" text-anchor="middle" fill="#222" font-family="Liberation Sans, Arial, Helvetica, sans-serif" font-weight="bold" letter-spacing="1.2" stroke="#fff" stroke-width="0.8" stroke-linejoin="round">500</text>
<text transform="translate(2126.6 1340.4) scale(1.0 1.0)" font-size="58.5" text-anchor="middle" fill="#222" font-family="Liberation Sans, Arial, Helvetica, sans-serif" font-weight="bold" letter-spacing="1.2" stroke="#fff" stroke-width="0.8" stroke-linejoin="round">600</text>
<text transform="translate(392.7 276.5) scale(1.0 1.0)" font-size="58.5" text-anchor="end" fill="#222" font-family="Liberation Sans, Arial, Helvetica, sans-serif" font-weight="bold" letter-spacing="1.2" stroke="#fff" stroke-width="0.8" stroke-linejoin="round">10</text>
<text transform="translate(392.7 184.6) scale(1.0 1.0)" font-size="58.5" text-anchor="end" fill="#222" font-family="Liberation Sans, Arial, Helvetica, sans-serif" font-weight="bold" letter-spacing="1.2" stroke="#fff" stroke-width="0.8" stroke-linejoin="round">20</text>
<text transform="translate(392.7 642.7) scale(1.0 1.0)" font-size="58.5" text-anchor="end" fill="#222" font-family="Liberation Sans, Arial, Helvetica, sans-serif" font-weight="bold" letter-spacing="1.2" stroke="#fff" stroke-width="0.8" stroke-linejoin="round">0</text>
<text transform="translate(392.7 549.7) scale(1.0 1.0)" font-size="58.5" text-anchor="end" fill="#222" font-family="Liberation Sans, Arial, Helvetica, sans-serif" font-weight="bold" letter-spacing="1.2" stroke="#fff" stroke-width="0.8" stroke-linejoin="round">10</text>
<text transform="translate(392.7 456.8) scale(1.0 1.0)" font-size="58.5" text-anchor="end" fill="#222" font-family="Liberation Sans, Arial, Helvetica, sans-serif" font-weight="bold" letter-spacing="1.2" stroke="#fff" stroke-width="0.8" stroke-linejoin="round">20</text>
<text transform="translate(392.7 926.5) scale(1.0 1.0)" font-size="58.5" text-anchor="end" fill="#222" font-family="Liberation Sans, Arial, Helvetica, sans-serif" font-weight="bold" letter-spacing="1.2" stroke="#fff" stroke-width="0.8" stroke-linejoin="round">0</text>
<text transform="translate(392.7 864.6) scale(1.0 1.0)" font-size="58.5" text-anchor="end" fill="#222" font-family="Liberation Sans, Arial, Helvetica, sans-serif" font-weight="bold" letter-spacing="1.2" stroke="#fff" stroke-width="0.8" stroke-linejoin="round">5</text>
<text transform="translate(392.7 802.7) scale(1.0 1.0)" font-size="58.5" text-anchor="end" fill="#222" font-family="Liberation Sans, Arial, Helvetica, sans-serif" font-weight="bold" letter-spacing="1.2" stroke="#fff" stroke-width="0.8" stroke-linejoin="round">10</text>
<text transform="translate(392.7 1282.1) scale(1.0 1.0)" font-size="58.5" text-anchor="end" fill="#222" font-family="Liberation Sans, Arial, Helvetica, sans-serif" font-weight="bold" letter-spacing="1.2" stroke="#fff" stroke-width="0.8" stroke-linejoin="round"><tspan dy="3.5" fill="#000">−</tspan><tspan dx="-8.5" dy="-3.5">200</tspan></text>
<text transform="translate(392.7 1207.7) scale(1.0 1.0)" font-size="58.5" text-anchor="end" fill="#222" font-family="Liberation Sans, Arial, Helvetica, sans-serif" font-weight="bold" letter-spacing="1.2" stroke="#fff" stroke-width="0.8" stroke-linejoin="round">200</text>
<text transform="translate(392.7 1133.4) scale(1.0 1.0)" font-size="58.5" text-anchor="end" fill="#222" font-family="Liberation Sans, Arial, Helvetica, sans-serif" font-weight="bold" letter-spacing="1.2" stroke="#fff" stroke-width="0.8" stroke-linejoin="round">600</text>
<text transform="translate(1148 1429.8) scale(1.026 1.07)" font-size="62" text-anchor="start" fill="#222" font-family="Liberation Sans, Arial, Helvetica, sans-serif" font-weight="bold">Time [s]</text>
<text transform="translate(94.4 215.8) rotate(-90) scale(1.0 1.1)" font-size="62" text-anchor="middle" fill="#222" font-family="Liberation Sans, Arial, Helvetica, sans-serif" font-weight="bold">Wind</text>
<text transform="translate(176 211.7) rotate(-90) scale(1.0 1.1)" font-size="62" text-anchor="middle" fill="#222" font-family="Liberation Sans, Arial, Helvetica, sans-serif" font-weight="bold">Speed</text>
<text transform="translate(257 210.1) rotate(-90) scale(1.0 1.1)" font-size="62" text-anchor="middle" fill="#222" font-family="Liberation Sans, Arial, Helvetica, sans-serif" font-weight="bold">[m/s]</text>
<text transform="translate(91.2 531.8) rotate(-90) scale(1.0 1.1)" font-size="62" text-anchor="middle" fill="#222" font-family="Liberation Sans, Arial, Helvetica, sans-serif" font-weight="bold">Pitch</text>
<text transform="translate(173.6 536.1) rotate(-90) scale(1.02 1.1)" font-size="62" text-anchor="middle" fill="#222" font-family="Liberation Sans, Arial, Helvetica, sans-serif" font-weight="bold">Angle</text>
<text transform="translate(254.5 530.4) rotate(-90) scale(1.0 1.1)" font-size="62" text-anchor="middle" fill="#222" font-family="Liberation Sans, Arial, Helvetica, sans-serif" font-weight="bold">[deg]</text>
<text transform="translate(88.7 853) rotate(-90) scale(1.01 1.1)" font-size="62" text-anchor="middle" fill="#222" font-family="Liberation Sans, Arial, Helvetica, sans-serif" font-weight="bold">Ploatform</text>
<text transform="translate(169.8 852.1) rotate(-90) scale(1.0 1.1)" font-size="62" text-anchor="middle" fill="#222" font-family="Liberation Sans, Arial, Helvetica, sans-serif" font-weight="bold">Pitch</text>
<text transform="translate(251.3 850.5) rotate(-90) scale(1.0 1.1)" font-size="62" text-anchor="middle" fill="#222" font-family="Liberation Sans, Arial, Helvetica, sans-serif" font-weight="bold">[deg]</text>
<text transform="translate(85.7 1168.6) rotate(-90) scale(1.04 1.1)" font-size="62" text-anchor="middle" fill="#222" font-family="Liberation Sans, Arial, Helvetica, sans-serif" font-weight="bold">Tower</text>
<text transform="translate(166 1169.5) rotate(-90) scale(1.0 1.1)" font-size="62" text-anchor="middle" fill="#222" font-family="Liberation Sans, Arial, Helvetica, sans-serif" font-weight="bold">Base My</text>
<text transform="translate(248.3 1170) rotate(-90) scale(1.0 1.1)" font-size="62" text-anchor="middle" fill="#222" font-family="Liberation Sans, Arial, Helvetica, sans-serif" font-weight="bold">[MNm]</text>
</svg>
</body></html>
